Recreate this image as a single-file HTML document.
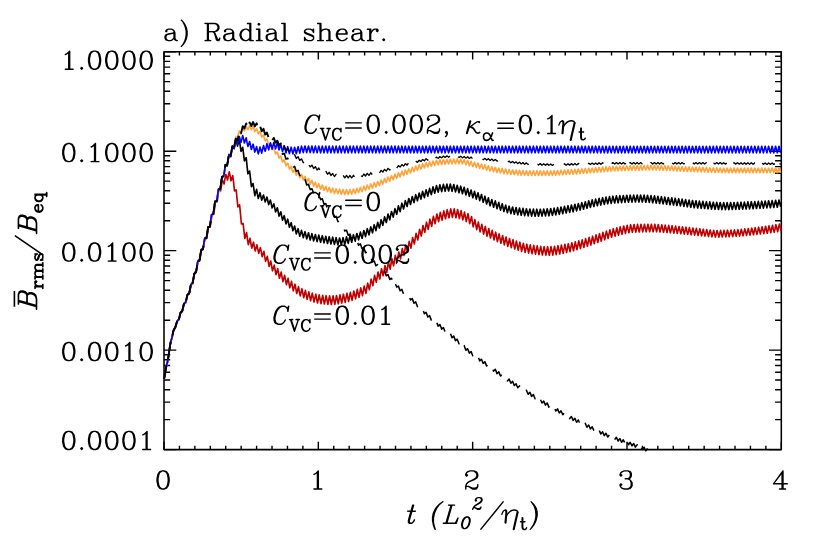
<!DOCTYPE html><html><head><meta charset="utf-8"><title>plot</title>
<style>html,body{margin:0;padding:0;background:#fff;}svg{display:block}</style></head><body>
<svg width="830" height="554" viewBox="0 0 830 554">
<rect width="830" height="554" fill="#fff"/>
<g><rect x="164.00" y="51.70" width="617.30" height="397.90" fill="none" stroke="#000" stroke-linejoin="round" stroke-width="1.55"/>
<path d="M164.00 449.60v-7.80M164.00 51.70v7.80M179.43 449.60v-3.80M179.43 51.70v3.80M194.87 449.60v-3.80M194.87 51.70v3.80M210.30 449.60v-3.80M210.30 51.70v3.80M225.73 449.60v-3.80M225.73 51.70v3.80M241.16 449.60v-3.80M241.16 51.70v3.80M256.60 449.60v-3.80M256.60 51.70v3.80M272.03 449.60v-3.80M272.03 51.70v3.80M287.46 449.60v-3.80M287.46 51.70v3.80M302.89 449.60v-3.80M302.89 51.70v3.80M318.32 449.60v-7.80M318.32 51.70v7.80M333.76 449.60v-3.80M333.76 51.70v3.80M349.19 449.60v-3.80M349.19 51.70v3.80M364.62 449.60v-3.80M364.62 51.70v3.80M380.05 449.60v-3.80M380.05 51.70v3.80M395.49 449.60v-3.80M395.49 51.70v3.80M410.92 449.60v-3.80M410.92 51.70v3.80M426.35 449.60v-3.80M426.35 51.70v3.80M441.78 449.60v-3.80M441.78 51.70v3.80M457.22 449.60v-3.80M457.22 51.70v3.80M472.65 449.60v-7.80M472.65 51.70v7.80M488.08 449.60v-3.80M488.08 51.70v3.80M503.51 449.60v-3.80M503.51 51.70v3.80M518.95 449.60v-3.80M518.95 51.70v3.80M534.38 449.60v-3.80M534.38 51.70v3.80M549.81 449.60v-3.80M549.81 51.70v3.80M565.25 449.60v-3.80M565.25 51.70v3.80M580.68 449.60v-3.80M580.68 51.70v3.80M596.11 449.60v-3.80M596.11 51.70v3.80M611.54 449.60v-3.80M611.54 51.70v3.80M626.98 449.60v-7.80M626.98 51.70v7.80M642.41 449.60v-3.80M642.41 51.70v3.80M657.84 449.60v-3.80M657.84 51.70v3.80M673.27 449.60v-3.80M673.27 51.70v3.80M688.70 449.60v-3.80M688.70 51.70v3.80M704.14 449.60v-3.80M704.14 51.70v3.80M719.57 449.60v-3.80M719.57 51.70v3.80M735.00 449.60v-3.80M735.00 51.70v3.80M750.43 449.60v-3.80M750.43 51.70v3.80M765.87 449.60v-3.80M765.87 51.70v3.80M781.30 449.60v-7.80M781.30 51.70v7.80M164.00 51.70h12.30M781.30 51.70h-12.30M164.00 121.23h6.20M781.30 121.23h-6.20M164.00 103.71h6.20M781.30 103.71h-6.20M164.00 91.29h6.20M781.30 91.29h-6.20M164.00 81.64h6.20M781.30 81.64h-6.20M164.00 73.77h6.20M781.30 73.77h-6.20M164.00 67.11h6.20M781.30 67.11h-6.20M164.00 61.34h6.20M781.30 61.34h-6.20M164.00 56.25h6.20M781.30 56.25h-6.20M164.00 151.18h12.30M781.30 151.18h-12.30M164.00 220.71h6.20M781.30 220.71h-6.20M164.00 203.19h6.20M781.30 203.19h-6.20M164.00 190.76h6.20M781.30 190.76h-6.20M164.00 181.12h6.20M781.30 181.12h-6.20M164.00 173.24h6.20M781.30 173.24h-6.20M164.00 166.58h6.20M781.30 166.58h-6.20M164.00 160.82h6.20M781.30 160.82h-6.20M164.00 155.73h6.20M781.30 155.73h-6.20M164.00 250.65h12.30M781.30 250.65h-12.30M164.00 320.18h6.20M781.30 320.18h-6.20M164.00 302.66h6.20M781.30 302.66h-6.20M164.00 290.24h6.20M781.30 290.24h-6.20M164.00 280.59h6.20M781.30 280.59h-6.20M164.00 272.72h6.20M781.30 272.72h-6.20M164.00 266.06h6.20M781.30 266.06h-6.20M164.00 260.29h6.20M781.30 260.29h-6.20M164.00 255.20h6.20M781.30 255.20h-6.20M164.00 350.12h12.30M781.30 350.12h-12.30M164.00 419.66h6.20M781.30 419.66h-6.20M164.00 402.14h6.20M781.30 402.14h-6.20M164.00 389.71h6.20M781.30 389.71h-6.20M164.00 380.07h6.20M781.30 380.07h-6.20M164.00 372.19h6.20M781.30 372.19h-6.20M164.00 365.53h6.20M781.30 365.53h-6.20M164.00 359.77h6.20M781.30 359.77h-6.20M164.00 354.68h6.20M781.30 354.68h-6.20M164.00 449.60h12.30M781.30 449.60h-12.30" stroke="#000" stroke-width="1.40" fill="none"/></g>
<g><path d="M164.0 379.5 164.9 374.7 165.7 369.4 166.6 365.3 167.5 362.1 168.3 357.6 169.2 351.4 170.1 345.2 170.9 341.4 171.8 338.5 172.7 334.3 173.5 330.4 174.4 328.9 175.2 327.7 176.1 324.7 177.0 321.6 177.8 320.7 178.7 319.9 179.6 316.5 180.4 313.0 181.3 312.2 182.2 311.4 183.0 307.8 183.9 304.0 184.8 303.3 185.6 302.7 186.5 298.9 187.4 294.9 188.2 294.3 189.1 293.7 190.0 289.5 190.8 285.0 191.7 284.2 192.5 283.5 193.4 278.7 194.3 273.8 195.1 273.0 196.0 272.3 196.9 267.2 197.7 261.9 198.6 261.2 199.5 260.7 200.3 255.4 201.2 250.1 202.1 249.7 202.9 249.4 203.8 244.1 204.7 238.6 205.5 238.5 206.4 238.3 207.3 232.8 208.1 227.1 209.0 227.0 209.8 226.8 210.7 220.9 211.6 214.7 212.4 214.4 213.3 214.0 214.2 207.7 215.0 201.5 215.9 201.4 216.8 201.3 217.6 195.3 218.5 189.4 219.4 189.3 220.2 189.3 221.1 183.1 222.0 176.8 222.8 176.6 223.7 176.5 224.6 170.6 225.4 164.9 226.3 165.4 227.1 165.9 228.0 160.5 228.9 155.2 229.7 156.0 230.6 156.9 231.5 151.9 232.3 146.9 233.2 147.8 234.1 148.7 234.9 143.7 235.8 139.0 236.7 142.0 237.5 146.1 238.4 142.9 239.3 139.5 240.1 144.9 241.0 151.3 241.9 149.3 242.7 147.3 243.6 154.1 244.4 160.9 245.3 159.2 246.2 157.7 247.0 165.7 247.9 173.8 248.8 172.5 249.6 171.0 250.5 178.6 251.4 186.6 252.2 185.2 253.1 183.5 254.0 190.1 254.8 195.7 255.7 192.4 256.6 189.4 257.4 194.2 258.3 198.5 259.2 195.5 260.0 192.7 260.9 196.6 261.7 200.1 262.6 197.6 263.5 195.0 264.3 198.5 265.2 202.0 266.1 199.5 266.9 197.1 267.8 200.8 268.7 204.6 269.5 202.3 270.4 200.1 271.3 204.0 272.1 208.0 273.0 205.9 273.9 203.8 274.7 207.8 275.6 212.0 276.5 209.9 277.3 207.8 278.2 211.9 279.0 216.1 279.9 214.0 280.8 211.8 281.6 216.0 282.5 220.1 283.4 217.9 284.2 215.7 285.1 219.8 286.0 223.9 286.8 221.5 287.7 219.2 288.6 223.3 289.4 227.3 290.3 225.0 291.2 222.7 292.0 226.8 292.9 230.8 293.8 228.4 294.6 226.0 295.5 230.0 296.3 233.9 297.2 231.3 298.1 228.7 298.9 232.5 299.8 236.2 300.7 233.3 301.5 230.4 302.4 234.0 303.3 237.7 304.1 234.7 305.0 231.7 305.9 235.3 306.7 238.9 307.6 235.9 308.5 232.8 309.3 236.4 310.2 240.0 311.1 236.8 311.9 233.7 312.8 237.3 313.6 240.9 314.5 237.7 315.4 234.5 316.2 238.0 317.1 241.6 318.0 238.4 318.8 235.1 319.7 238.7 320.6 242.3 321.4 239.0 322.3 235.7 323.2 239.3 324.0 242.9 324.9 239.6 325.8 236.3 326.6 239.9 327.5 243.5 328.4 240.1 329.2 236.7 330.1 240.4 330.9 244.0 331.8 240.6 332.7 237.2 333.5 240.8 334.4 244.4 335.3 241.0 336.1 237.6 337.0 241.2 337.9 244.9 338.7 241.4 339.6 238.0 340.5 241.5 341.3 244.9 342.2 241.3 343.1 237.7 343.9 241.1 344.8 244.4 345.7 240.7 346.5 236.9 347.4 240.2 348.2 243.4 349.1 239.6 350.0 235.8 350.8 239.0 351.7 242.2 352.6 238.4 353.4 234.7 354.3 237.9 355.2 241.1 356.0 237.3 356.9 233.5 357.8 236.6 358.6 239.8 359.5 235.9 360.4 232.1 361.2 235.2 362.1 238.3 363.0 234.4 363.8 230.5 364.7 233.5 365.5 236.6 366.4 232.6 367.3 228.7 368.1 231.7 369.0 234.8 369.9 230.8 370.7 226.8 371.6 229.8 372.5 232.8 373.3 228.8 374.2 224.7 375.1 227.7 375.9 230.6 376.8 226.5 377.7 222.3 378.5 225.2 379.4 228.0 380.3 223.9 381.1 219.7 382.0 222.5 382.8 225.3 383.7 221.1 384.6 216.9 385.4 219.7 386.3 222.5 387.2 218.3 388.0 214.1 388.9 216.9 389.8 219.8 390.6 215.6 391.5 211.5 392.4 214.3 393.2 217.1 394.1 212.9 395.0 208.7 395.8 211.5 396.7 214.3 397.6 210.1 398.4 205.9 399.3 208.7 400.1 211.6 401.0 207.4 401.9 203.2 402.7 206.1 403.6 208.9 404.5 204.8 405.3 200.7 406.2 203.6 407.1 206.5 407.9 202.5 408.8 198.5 409.7 201.5 410.5 204.5 411.4 200.5 412.3 196.5 413.1 199.5 414.0 202.6 414.9 198.6 415.7 194.7 416.6 197.7 417.4 200.8 418.3 196.9 419.2 193.0 420.0 196.0 420.9 199.1 421.8 195.2 422.6 191.4 423.5 194.5 424.4 197.6 425.2 193.7 426.1 189.9 427.0 193.0 427.8 196.1 428.7 192.3 429.6 188.4 430.4 191.5 431.3 194.6 432.2 190.7 433.0 186.9 433.9 190.0 434.7 193.2 435.6 189.4 436.5 185.6 437.3 188.8 438.2 192.1 439.1 188.4 439.9 184.8 440.8 188.2 441.7 191.6 442.5 188.0 443.4 184.4 444.3 187.8 445.1 191.2 446.0 187.7 446.9 184.1 447.7 187.6 448.6 191.0 449.5 187.5 450.3 184.0 451.2 187.6 452.0 191.2 452.9 187.8 453.8 184.5 454.6 188.2 455.5 191.9 456.4 188.6 457.2 185.3 458.1 189.0 459.0 192.7 459.8 189.5 460.7 186.2 461.6 190.0 462.4 193.7 463.3 190.5 464.2 187.3 465.0 191.1 465.9 194.9 466.8 191.8 467.6 188.6 468.5 192.4 469.3 196.3 470.2 193.1 471.1 190.0 471.9 193.8 472.8 197.7 473.7 194.5 474.5 191.4 475.4 195.3 476.3 199.1 477.1 196.0 478.0 192.8 478.9 196.7 479.7 200.6 480.6 197.5 481.5 194.5 482.3 198.4 483.2 202.3 484.1 199.2 484.9 196.2 485.8 200.1 486.6 204.0 487.5 201.0 488.4 197.9 489.2 201.8 490.1 205.7 491.0 202.6 491.8 199.5 492.7 203.4 493.6 207.2 494.4 204.1 495.3 200.9 496.2 204.8 497.0 208.7 497.9 205.5 498.8 202.4 499.6 206.2 500.5 210.1 501.4 207.0 502.2 203.8 503.1 207.6 503.9 211.5 504.8 208.3 505.7 205.1 506.5 208.9 507.4 212.7 508.3 209.4 509.1 206.2 510.0 209.9 510.9 213.6 511.7 210.3 512.6 207.0 513.5 210.6 514.3 214.2 515.2 210.9 516.1 207.5 516.9 211.2 517.8 214.8 518.7 211.4 519.5 208.0 520.4 211.6 521.2 215.2 522.1 211.8 523.0 208.4 523.8 212.0 524.7 215.6 525.6 212.2 526.4 208.8 527.3 212.3 528.2 215.9 529.0 212.4 529.9 209.0 530.8 212.5 531.6 216.1 532.5 212.6 533.4 209.1 534.2 212.6 535.1 216.2 536.0 212.7 536.8 209.2 537.7 212.7 538.5 216.2 539.4 212.7 540.3 209.2 541.1 212.6 542.0 216.1 542.9 212.5 543.7 209.0 544.6 212.5 545.5 215.9 546.3 212.3 547.2 208.8 548.1 212.2 548.9 215.7 549.8 212.1 550.7 208.5 551.5 211.9 552.4 215.3 553.3 211.7 554.1 208.1 555.0 211.5 555.8 214.9 556.7 211.2 557.6 207.6 558.4 210.9 559.3 214.3 560.2 210.6 561.0 207.0 561.9 210.3 562.8 213.7 563.6 210.0 564.5 206.4 565.4 209.7 566.2 213.0 567.1 209.4 568.0 205.7 568.8 209.1 569.7 212.4 570.6 208.7 571.4 205.0 572.3 208.4 573.1 211.7 574.0 208.0 574.9 204.3 575.7 207.6 576.6 210.9 577.5 207.2 578.3 203.5 579.2 206.8 580.1 210.1 580.9 206.4 581.8 202.7 582.7 206.0 583.5 209.2 584.4 205.5 585.3 201.8 586.1 205.0 587.0 208.3 587.9 204.6 588.7 200.8 589.6 204.1 590.4 207.4 591.3 203.6 592.2 199.9 593.0 203.2 593.9 206.5 594.8 202.8 595.6 199.1 596.5 202.4 597.4 205.7 598.2 202.1 599.1 198.4 600.0 201.7 600.8 205.1 601.7 201.4 602.6 197.7 603.4 201.1 604.3 204.4 605.2 200.8 606.0 197.1 606.9 200.5 607.7 203.8 608.6 200.2 609.5 196.6 610.3 200.0 611.2 203.4 612.1 199.8 612.9 196.2 613.8 199.6 614.7 203.0 615.5 199.4 616.4 195.9 617.3 199.3 618.1 202.8 619.0 199.2 619.9 195.7 620.7 199.1 621.6 202.6 622.5 199.0 623.3 195.5 624.2 198.9 625.0 202.4 625.9 198.8 626.8 195.3 627.6 198.8 628.5 202.2 629.4 198.7 630.2 195.2 631.1 198.6 632.0 202.1 632.8 198.6 633.7 195.1 634.6 198.6 635.4 202.0 636.3 198.5 637.2 195.0 638.0 198.5 638.9 202.0 639.8 198.5 640.6 195.0 641.5 198.5 642.3 202.0 643.2 198.6 644.1 195.1 644.9 198.6 645.8 202.2 646.7 198.7 647.5 195.3 648.4 198.9 649.3 202.4 650.1 199.0 651.0 195.6 651.9 199.1 652.7 202.7 653.6 199.3 654.5 195.9 655.3 199.5 656.2 203.1 657.1 199.7 657.9 196.3 658.8 199.9 659.6 203.5 660.5 200.1 661.4 196.7 662.2 200.3 663.1 203.9 664.0 200.5 664.8 197.1 665.7 200.7 666.6 204.3 667.4 200.9 668.3 197.5 669.2 201.1 670.0 204.7 670.9 201.3 671.8 197.8 672.6 201.4 673.5 205.0 674.4 201.6 675.2 198.2 676.1 201.9 676.9 205.5 677.8 202.1 678.7 198.7 679.5 202.3 680.4 205.9 681.3 202.5 682.1 199.1 683.0 202.8 683.9 206.4 684.7 203.0 685.6 199.6 686.5 203.2 687.3 206.8 688.2 203.5 689.1 200.1 689.9 203.7 690.8 207.3 691.7 203.9 692.5 200.5 693.4 204.1 694.2 207.7 695.1 204.2 696.0 200.8 696.8 204.4 697.7 208.0 698.6 204.5 699.4 201.1 700.3 204.7 701.2 208.3 702.0 204.8 702.9 201.4 703.8 205.0 704.6 208.5 705.5 205.1 706.4 201.7 707.2 205.2 708.1 208.8 709.0 205.4 709.8 201.9 710.7 205.5 711.5 209.1 712.4 205.6 713.3 202.2 714.1 205.7 715.0 209.3 715.9 205.8 716.7 202.4 717.6 205.9 718.5 209.5 719.3 206.0 720.2 202.5 721.1 206.0 721.9 209.6 722.8 206.1 723.7 202.6 724.5 206.1 725.4 209.6 726.3 206.1 727.1 202.6 728.0 206.1 728.8 209.6 729.7 206.1 730.6 202.5 731.4 206.0 732.3 209.5 733.2 206.0 734.0 202.5 734.9 205.9 735.8 209.4 736.6 205.9 737.5 202.3 738.4 205.8 739.2 209.3 740.1 205.7 741.0 202.2 741.8 205.7 742.7 209.1 743.6 205.6 744.4 202.1 745.3 205.5 746.1 209.0 747.0 205.4 747.9 201.9 748.7 205.4 749.6 208.8 750.5 205.3 751.3 201.7 752.2 205.2 753.1 208.7 753.9 205.1 754.8 201.6 755.7 205.0 756.5 208.5 757.4 205.0 758.3 201.4 759.1 204.9 760.0 208.3 760.9 204.8 761.7 201.2 762.6 204.7 763.4 208.1 764.3 204.6 765.2 201.0 766.0 204.5 766.9 207.9 767.8 204.4 768.6 200.8 769.5 204.2 770.4 207.7 771.2 204.1 772.1 200.6 773.0 204.0 773.8 207.5 774.7 203.9 775.6 200.3 776.4 203.8 777.3 207.2 778.2 203.6 779.0 200.1 779.9 203.5 780.7 206.9" stroke="#000" stroke-width="1.65" fill="none" stroke-linejoin="round"/>
<path d="M164.4 376.9 165.3 372.6 166.1 367.9 167.0 363.7 167.8 359.9 168.7 355.1 169.6 349.0 170.4 343.0 171.3 339.7 172.2 337.0 173.0 332.9 173.9 329.2 174.8 327.9 175.6 326.8 176.5 323.8 177.4 320.7 178.2 319.8 179.1 319.0 180.0 315.5 180.8 312.0 181.7 311.2 182.6 310.5 183.4 306.8 184.3 303.0 185.1 302.3 186.0 301.7 186.9 297.9 187.7 293.9 188.6 293.3 189.5 292.7 190.3 288.4 191.2 283.8 192.1 283.0 192.9 282.3 193.8 277.5 194.7 272.5 195.5 271.7 196.4 270.9 197.3 265.8 198.1 260.5 199.0 259.9 199.9 259.3 200.7 254.1 201.6 248.9 202.4 248.6 203.3 248.4 204.2 243.2 205.0 237.9 205.9 237.8 206.8 237.9 207.6 232.4 208.5 226.8 209.4 226.8 210.2 226.9 211.1 221.0 212.0 214.8 212.8 214.6 213.7 214.3 214.6 208.1 215.4 201.8 216.3 201.8 217.2 201.7 218.0 195.4 218.9 189.1 219.7 189.7 220.6 190.8 221.5 185.4 222.3 180.0 223.2 181.8 224.1 183.9 224.9 179.1 225.8 174.4 226.7 177.1 227.5 180.0 228.4 175.7 229.3 171.8 230.1 175.9 231.0 180.8 231.9 178.2 232.7 175.6 233.6 182.3 234.5 191.0 235.3 190.8 236.2 189.9 237.0 198.4 237.9 206.9 238.8 205.8 239.6 204.8 240.5 214.2 241.4 224.0 242.2 224.0 243.1 223.4 244.0 231.4 244.8 238.5 245.7 235.6 246.6 232.5 247.4 238.8 248.3 244.6 249.2 241.3 250.0 238.3 250.9 243.5 251.8 248.1 252.6 245.2 253.5 242.2 254.3 246.6 255.2 250.9 256.1 247.8 256.9 244.8 257.8 249.1 258.7 253.4 259.5 250.4 260.4 247.5 261.3 252.1 262.1 256.7 263.0 254.1 263.9 251.4 264.7 256.4 265.6 261.3 266.5 258.8 267.3 256.3 268.2 261.3 269.1 266.4 269.9 263.8 270.8 261.1 271.6 266.0 272.5 270.8 273.4 268.0 274.2 265.1 275.1 269.9 276.0 274.6 276.8 271.7 277.7 268.7 278.6 273.5 279.4 278.2 280.3 275.2 281.2 272.1 282.0 276.8 282.9 281.6 283.8 278.5 284.6 275.3 285.5 280.0 286.4 284.7 287.2 281.5 288.1 278.3 288.9 283.0 289.8 287.8 290.7 284.6 291.5 281.3 292.4 286.1 293.3 290.8 294.1 287.5 295.0 284.2 295.9 288.9 296.7 293.5 297.6 290.2 298.5 286.7 299.3 291.3 300.2 295.9 301.1 292.4 301.9 288.8 302.8 293.2 303.7 297.7 304.5 294.1 305.4 290.4 306.2 294.8 307.1 299.3 308.0 295.6 308.8 291.8 309.7 296.3 310.6 300.8 311.4 297.0 312.3 293.1 313.2 297.6 314.0 302.0 314.9 298.1 315.8 294.2 316.6 298.6 317.5 303.0 318.4 299.0 319.2 294.9 320.1 299.3 321.0 303.6 321.8 299.5 322.7 295.3 323.5 299.7 324.4 304.0 325.3 299.9 326.1 295.7 327.0 300.0 327.9 304.4 328.7 300.1 329.6 295.9 330.5 300.2 331.3 304.5 332.2 300.2 333.1 295.8 333.9 300.1 334.8 304.3 335.7 299.9 336.5 295.5 337.4 299.7 338.3 303.8 339.1 299.4 340.0 294.9 340.8 299.0 341.7 303.2 342.6 298.7 343.4 294.2 344.3 298.3 345.2 302.4 346.0 297.9 346.9 293.3 347.8 297.4 348.6 301.5 349.5 296.9 350.4 292.3 351.2 296.3 352.1 300.3 353.0 295.6 353.8 291.0 354.7 294.9 355.6 298.8 356.4 294.1 357.3 289.4 358.1 293.3 359.0 297.3 359.9 292.6 360.7 287.9 361.6 291.8 362.5 295.6 363.3 290.8 364.2 286.0 365.1 289.8 365.9 293.4 366.8 288.4 367.7 283.2 368.5 286.5 369.4 289.7 370.3 284.4 371.1 279.0 372.0 282.3 372.9 285.7 373.7 280.5 374.6 275.4 375.4 278.8 376.3 282.3 377.2 277.1 378.0 272.0 378.9 275.5 379.8 279.0 380.6 273.8 381.5 268.7 382.4 272.2 383.2 275.7 384.1 270.6 385.0 265.5 385.8 269.0 386.7 272.5 387.6 267.3 388.4 262.2 389.3 265.7 390.2 269.1 391.0 264.0 391.9 258.8 392.7 262.3 393.6 265.7 394.5 260.6 395.3 255.4 396.2 258.9 397.1 262.3 397.9 257.2 398.8 252.0 399.7 255.4 400.5 258.9 401.4 253.7 402.3 248.5 403.1 252.0 404.0 255.4 404.9 250.2 405.7 245.0 406.6 248.4 407.5 251.8 408.3 246.6 409.2 241.4 410.0 244.7 410.9 248.1 411.8 242.8 412.6 237.5 413.5 240.8 414.4 244.0 415.2 238.7 416.1 233.4 417.0 236.7 417.8 239.9 418.7 234.6 419.6 229.3 420.4 232.6 421.3 236.0 422.2 230.7 423.0 225.5 423.9 229.0 424.8 232.4 425.6 227.3 426.5 222.2 427.3 225.8 428.2 229.3 429.1 224.3 429.9 219.2 430.8 222.8 431.7 226.4 432.5 221.4 433.4 216.4 434.3 220.1 435.1 223.7 436.0 218.9 436.9 214.0 437.7 217.8 438.6 221.6 439.5 216.9 440.3 212.3 441.2 216.2 442.1 220.2 442.9 215.5 443.8 210.9 444.6 214.8 445.5 218.8 446.4 214.2 447.2 209.7 448.1 213.7 449.0 217.8 449.8 213.4 450.7 208.9 451.6 213.1 452.4 217.4 453.3 213.1 454.2 208.9 455.0 213.3 455.9 217.7 456.8 213.6 457.6 209.5 458.5 214.0 459.4 218.6 460.2 214.6 461.1 210.6 461.9 215.3 462.8 219.9 463.7 216.0 464.5 212.1 465.4 216.8 466.3 221.5 467.1 217.6 468.0 213.7 468.9 218.6 469.7 223.6 470.6 220.1 471.5 216.5 472.3 221.7 473.2 226.8 474.1 223.2 474.9 219.7 475.8 224.6 476.7 229.6 477.5 225.8 478.4 222.1 479.2 227.0 480.1 231.9 481.0 228.1 481.8 224.4 482.7 229.2 483.6 234.1 484.4 230.3 485.3 226.5 486.2 231.3 487.0 236.1 487.9 232.3 488.8 228.5 489.6 233.3 490.5 238.0 491.4 234.2 492.2 230.4 493.1 235.1 494.0 239.9 494.8 236.0 495.7 232.2 496.5 236.9 497.4 241.6 498.3 237.7 499.1 233.9 500.0 238.6 500.9 243.3 501.7 239.4 502.6 235.5 503.5 240.2 504.3 244.9 505.2 241.0 506.1 237.0 506.9 241.7 507.8 246.4 508.7 242.4 509.5 238.5 510.4 243.1 511.3 247.7 512.1 243.7 513.0 239.7 513.8 244.4 514.7 249.0 515.6 245.0 516.4 241.0 517.3 245.6 518.2 250.2 519.0 246.2 519.9 242.2 520.8 246.8 521.6 251.4 522.5 247.3 523.4 243.3 524.2 247.8 525.1 252.4 526.0 248.3 526.8 244.2 527.7 248.7 528.6 253.2 529.4 249.0 530.3 244.9 531.1 249.3 532.0 253.7 532.9 249.6 533.7 245.4 534.6 249.8 535.5 254.2 536.3 250.1 537.2 245.9 538.1 250.3 538.9 254.7 539.8 250.5 540.7 246.3 541.5 250.7 542.4 255.0 543.3 250.8 544.1 246.6 545.0 250.9 545.9 255.2 546.7 251.0 547.6 246.7 548.4 251.0 549.3 255.3 550.2 251.0 551.0 246.6 551.9 250.8 552.8 255.1 553.6 250.7 554.5 246.3 555.4 250.4 556.2 254.6 557.1 250.2 558.0 245.7 558.8 249.8 559.7 254.0 560.6 249.5 561.4 245.0 562.3 249.2 563.2 253.3 564.0 248.8 564.9 244.4 565.7 248.4 566.6 252.5 567.5 248.1 568.3 243.7 569.2 247.7 570.1 251.7 570.9 247.3 571.8 242.8 572.7 246.8 573.5 250.8 574.4 246.3 575.3 241.8 576.1 245.8 577.0 249.7 577.9 245.3 578.7 240.8 579.6 244.7 580.5 248.6 581.3 244.2 582.2 239.8 583.0 243.6 583.9 247.5 584.8 243.0 585.6 238.6 586.5 242.4 587.4 246.3 588.2 241.8 589.1 237.4 590.0 241.2 590.8 245.0 591.7 240.6 592.6 236.2 593.4 239.9 594.3 243.7 595.2 239.3 596.0 234.9 596.9 238.7 597.8 242.5 598.6 238.1 599.5 233.7 600.3 237.4 601.2 241.2 602.1 236.8 602.9 232.4 603.8 236.1 604.7 239.8 605.5 235.4 606.4 231.1 607.3 234.8 608.1 238.5 609.0 234.1 609.9 229.8 610.7 233.5 611.6 237.2 612.5 232.9 613.3 228.7 614.2 232.4 615.1 236.1 615.9 231.9 616.8 227.8 617.6 231.5 618.5 235.2 619.4 231.0 620.2 226.9 621.1 230.6 622.0 234.3 622.8 230.1 623.7 226.0 624.6 229.7 625.4 233.4 626.3 229.3 627.2 225.3 628.0 229.0 628.9 232.7 629.8 228.7 630.6 224.7 631.5 228.5 632.4 232.3 633.2 228.3 634.1 224.5 634.9 228.3 635.8 232.1 636.7 228.2 637.5 224.4 638.4 228.2 639.3 232.0 640.1 228.1 641.0 224.3 641.9 228.1 642.7 231.9 643.6 228.1 644.5 224.3 645.3 228.0 646.2 231.8 647.1 228.0 647.9 224.3 648.8 228.0 649.7 231.7 650.5 228.0 651.4 224.3 652.2 228.0 653.1 231.7 654.0 228.0 654.8 224.3 655.7 228.1 656.6 231.8 657.4 228.2 658.3 224.5 659.2 228.3 660.0 232.0 660.9 228.4 661.8 224.8 662.6 228.5 663.5 232.3 664.4 228.7 665.2 225.1 666.1 228.8 667.0 232.5 667.8 229.0 668.7 225.4 669.5 229.1 670.4 232.8 671.3 229.3 672.1 225.7 673.0 229.4 673.9 233.1 674.7 229.6 675.6 226.1 676.5 229.7 677.3 233.4 678.2 229.9 679.1 226.5 679.9 230.1 680.8 233.7 681.7 230.3 682.5 226.8 683.4 230.5 684.3 234.1 685.1 230.7 686.0 227.2 686.8 230.8 687.7 234.4 688.6 231.0 689.4 227.6 690.3 231.2 691.2 234.8 692.0 231.4 692.9 228.0 693.8 231.6 694.6 235.1 695.5 231.7 696.4 228.4 697.2 231.9 698.1 235.5 699.0 232.1 699.8 228.8 700.7 232.3 701.6 235.8 702.4 232.5 703.3 229.2 704.1 232.7 705.0 236.1 705.9 232.8 706.7 229.5 707.6 233.0 708.5 236.5 709.3 233.2 710.2 230.0 711.1 233.4 711.9 236.9 712.8 233.6 713.7 230.4 714.5 233.8 715.4 237.1 716.3 233.8 717.1 230.5 718.0 233.8 718.9 237.1 719.7 233.8 720.6 230.4 721.4 233.7 722.3 237.0 723.2 233.7 724.0 230.4 724.9 233.6 725.8 236.9 726.6 233.6 727.5 230.2 728.4 233.5 729.2 236.7 730.1 233.4 731.0 230.1 731.8 233.3 732.7 236.6 733.6 233.2 734.4 229.9 735.3 233.1 736.2 236.4 737.0 233.0 737.9 229.7 738.7 232.9 739.6 236.1 740.5 232.7 741.3 229.3 742.2 232.5 743.1 235.8 743.9 232.4 744.8 228.9 745.7 232.2 746.5 235.4 747.4 232.0 748.3 228.5 749.1 231.8 750.0 235.1 750.9 231.6 751.7 228.0 752.6 231.4 753.5 234.7 754.3 231.2 755.2 227.6 756.0 231.0 756.9 234.4 757.8 230.8 758.6 227.2 759.5 230.6 760.4 234.0 761.2 230.4 762.1 226.8 763.0 230.2 763.8 233.6 764.7 230.0 765.6 226.3 766.4 229.7 767.3 233.2 768.2 229.5 769.0 225.8 769.9 229.3 770.8 232.7 771.6 229.0 772.5 225.3 773.3 228.8 774.2 232.3 775.1 228.5 775.9 224.7 776.8 228.2 777.7 231.7 778.5 227.9 779.4 224.1 780.3 227.6 781.1 231.1" stroke="#c00000" stroke-width="1.65" fill="none" stroke-linejoin="round"/>
<path d="M164.0 379.8 164.9 375.0 165.7 369.7 166.6 365.6 167.5 362.4 168.3 357.9 169.2 351.7 170.1 345.5 170.9 341.7 171.8 338.8 172.7 334.6 173.5 330.7 174.4 329.2 175.2 328.0 176.1 325.0 177.0 321.9 177.8 321.0 178.7 320.2 179.6 316.8 180.4 313.3 181.3 312.5 182.2 311.7 183.0 308.1 183.9 304.3 184.8 303.6 185.6 303.0 186.5 299.2 187.4 295.2 188.2 294.6 189.1 294.0 190.0 289.8 190.8 285.3 191.7 284.5 192.5 283.8 193.4 279.0 194.3 274.1 195.1 273.3 196.0 272.6 196.9 267.5 197.7 262.2 198.6 261.5 199.5 261.0 200.3 255.7 201.2 250.4 202.1 250.0 202.9 249.7 203.8 244.4 204.7 238.9 205.5 238.8 206.4 238.6 207.3 233.1 208.1 227.4 209.0 227.3 209.8 227.1 210.7 221.2 211.6 215.0 212.4 214.7 213.3 214.3 214.2 208.0 215.0 201.8 215.9 201.7 216.8 201.6 217.6 195.6 218.5 189.7 219.4 189.6 220.2 189.6 221.1 183.4 222.0 177.2 222.8 177.0 223.7 176.9 224.6 170.9 225.4 165.2 226.3 165.7 227.1 166.2 228.0 160.8 228.9 155.6 229.7 156.3 230.6 156.9 231.5 151.8 232.3 146.8 233.2 147.1 234.1 147.1 234.9 141.9 235.8 137.0 236.7 137.3 237.5 137.9 238.4 134.3 239.3 130.9 240.1 132.2 241.0 133.6 241.9 130.6 242.7 128.0 243.6 129.5 244.4 131.0 245.3 128.7 246.2 126.4 247.0 128.0 247.9 129.7 248.8 127.6 249.6 125.6 250.5 127.6 251.4 129.7 252.2 128.1 253.1 126.6 254.0 129.0 254.8 131.5 255.7 130.1 256.6 128.7 257.4 131.3 258.3 133.8 259.2 132.7 260.0 131.6 260.9 134.3 261.7 137.0 262.6 136.0 263.5 135.0 264.3 137.9 265.2 140.8 266.1 139.9 266.9 139.1 267.8 142.1 268.7 145.1 269.5 144.4 270.4 143.6 271.3 146.7 272.1 149.7 273.0 148.9 273.9 148.0 274.7 151.0 275.6 154.0 276.5 153.0 277.3 152.0 278.2 155.0 279.0 158.1 279.9 157.0 280.8 156.0 281.6 159.0 282.5 162.0 283.4 160.9 284.2 159.7 285.1 162.7 286.0 165.7 286.8 164.4 287.7 163.1 288.6 166.1 289.4 169.1 290.3 167.7 291.2 166.4 292.0 169.3 292.9 172.3 293.8 170.8 294.6 169.3 295.5 172.2 296.3 175.2 297.2 173.6 298.1 172.0 298.9 174.8 299.8 177.7 300.7 176.0 301.5 174.3 302.4 177.1 303.3 180.0 304.1 178.2 305.0 176.3 305.9 179.2 306.7 182.0 307.6 180.2 308.5 178.3 309.3 181.2 310.2 184.1 311.1 182.2 311.9 180.3 312.8 183.2 313.6 186.1 314.5 184.2 315.4 182.2 316.2 185.0 317.1 187.8 318.0 185.8 318.8 183.7 319.7 186.5 320.6 189.2 321.4 187.1 322.3 185.1 323.2 187.8 324.0 190.5 324.9 188.4 325.8 186.3 326.6 189.0 327.5 191.7 328.4 189.5 329.2 187.4 330.1 190.0 330.9 192.6 331.8 190.5 332.7 188.2 333.5 190.8 334.4 193.4 335.3 191.1 336.1 188.8 337.0 191.3 337.9 193.8 338.7 191.5 339.6 189.2 340.5 191.7 341.3 194.2 342.2 191.9 343.1 189.5 343.9 192.0 344.8 194.4 345.7 192.1 346.5 189.7 347.4 192.1 348.2 194.5 349.1 192.0 350.0 189.6 350.8 191.9 351.7 194.1 352.6 191.6 353.4 189.1 354.3 191.3 355.2 193.5 356.0 190.9 356.9 188.3 357.8 190.5 358.6 192.6 359.5 190.0 360.4 187.3 361.2 189.5 362.1 191.6 363.0 188.9 363.8 186.2 364.7 188.3 365.5 190.4 366.4 187.7 367.3 185.1 368.1 187.2 369.0 189.3 369.9 186.6 370.7 183.9 371.6 186.0 372.5 188.1 373.3 185.5 374.2 182.8 375.1 184.9 375.9 186.9 376.8 184.2 377.7 181.5 378.5 183.5 379.4 185.6 380.3 182.8 381.1 180.1 382.0 182.1 382.8 184.1 383.7 181.3 384.6 178.6 385.4 180.6 386.3 182.6 387.2 179.8 388.0 177.1 388.9 179.1 389.8 181.2 390.6 178.4 391.5 175.7 392.4 177.7 393.2 179.8 394.1 177.0 395.0 174.2 395.8 176.3 396.7 178.3 397.6 175.6 398.4 172.8 399.3 174.9 400.1 176.9 401.0 174.2 401.9 171.4 402.7 173.5 403.6 175.5 404.5 172.8 405.3 170.1 406.2 172.1 407.1 174.2 407.9 171.5 408.8 168.8 409.7 170.8 410.5 172.9 411.4 170.2 412.3 167.4 413.1 169.5 414.0 171.6 414.9 168.9 415.7 166.1 416.6 168.2 417.4 170.3 418.3 167.6 419.2 164.9 420.0 167.0 420.9 169.1 421.8 166.4 422.6 163.7 423.5 165.8 424.4 168.0 425.2 165.3 426.1 162.7 427.0 164.9 427.8 167.0 428.7 164.4 429.6 161.8 430.4 164.0 431.3 166.2 432.2 163.6 433.0 161.0 433.9 163.2 434.7 165.4 435.6 162.8 436.5 160.3 437.3 162.5 438.2 164.8 439.1 162.3 439.9 159.8 440.8 162.1 441.7 164.4 442.5 162.0 443.4 159.6 444.3 161.9 445.1 164.2 446.0 161.7 446.9 159.3 447.7 161.6 448.6 164.0 449.5 161.5 450.3 159.1 451.2 161.5 452.0 163.8 452.9 161.4 453.8 159.0 454.6 161.3 455.5 163.7 456.4 161.3 457.2 158.9 458.1 161.3 459.0 163.7 459.8 161.4 460.7 159.1 461.6 161.6 462.4 164.0 463.3 161.8 464.2 159.6 465.0 162.2 465.9 164.7 466.8 162.6 467.6 160.4 468.5 163.0 469.3 165.6 470.2 163.5 471.1 161.4 471.9 164.0 472.8 166.6 473.7 164.4 474.5 162.3 475.4 164.9 476.3 167.4 477.1 165.3 478.0 163.1 478.9 165.7 479.7 168.3 480.6 166.1 481.5 164.0 482.3 166.6 483.2 169.2 484.1 167.1 484.9 164.9 485.8 167.5 486.6 170.1 487.5 168.0 488.4 165.8 489.2 168.4 490.1 171.0 491.0 168.8 491.8 166.7 492.7 169.2 493.6 171.7 494.4 169.5 495.3 167.4 496.2 169.9 497.0 172.4 497.9 170.2 498.8 168.0 499.6 170.5 500.5 173.0 501.4 170.8 502.2 168.6 503.1 171.1 503.9 173.6 504.8 171.3 505.7 169.1 506.5 171.6 507.4 174.0 508.3 171.8 509.1 169.6 510.0 172.0 510.9 174.4 511.7 172.2 512.6 169.9 513.5 172.3 514.3 174.7 515.2 172.4 516.1 170.1 516.9 172.5 517.8 174.9 518.7 172.7 519.5 170.4 520.4 172.8 521.2 175.2 522.1 172.9 523.0 170.6 523.8 172.9 524.7 175.3 525.6 173.0 526.4 170.7 527.3 173.1 528.2 175.4 529.0 173.1 529.9 170.8 530.8 173.1 531.6 175.4 532.5 173.1 533.4 170.8 534.2 173.1 535.1 175.4 536.0 173.1 536.8 170.8 537.7 173.1 538.5 175.4 539.4 173.1 540.3 170.8 541.1 173.1 542.0 175.4 542.9 173.1 543.7 170.8 544.6 173.1 545.5 175.4 546.3 173.1 547.2 170.8 548.1 173.1 548.9 175.4 549.8 173.1 550.7 170.8 551.5 173.1 552.4 175.4 553.3 173.0 554.1 170.6 555.0 172.9 555.8 175.2 556.7 172.8 557.6 170.5 558.4 172.7 559.3 175.0 560.2 172.6 561.0 170.2 561.9 172.5 562.8 174.8 563.6 172.4 564.5 170.0 565.4 172.3 566.2 174.5 567.1 172.2 568.0 169.8 568.8 172.1 569.7 174.3 570.6 172.0 571.4 169.6 572.3 171.8 573.1 174.1 574.0 171.7 574.9 169.3 575.7 171.6 576.6 173.9 577.5 171.5 578.3 169.1 579.2 171.4 580.1 173.6 580.9 171.2 581.8 168.9 582.7 171.1 583.5 173.3 584.4 171.0 585.3 168.6 586.1 170.8 587.0 173.1 587.9 170.7 588.7 168.3 589.6 170.5 590.4 172.8 591.3 170.4 592.2 168.0 593.0 170.2 593.9 172.5 594.8 170.1 595.6 167.7 596.5 169.9 597.4 172.2 598.2 169.8 599.1 167.4 600.0 169.6 600.8 171.9 601.7 169.5 602.6 167.1 603.4 169.4 604.3 171.6 605.2 169.2 606.0 166.9 606.9 169.1 607.7 171.3 608.6 169.0 609.5 166.6 610.3 168.9 611.2 171.1 612.1 168.8 612.9 166.4 613.8 168.7 614.7 171.0 615.5 168.6 616.4 166.3 617.3 168.6 618.1 170.8 619.0 168.5 619.9 166.2 620.7 168.4 621.6 170.7 622.5 168.4 623.3 166.0 624.2 168.3 625.0 170.6 625.9 168.2 626.8 165.9 627.6 168.2 628.5 170.4 629.4 168.1 630.2 165.8 631.1 168.1 632.0 170.3 632.8 168.0 633.7 165.7 634.6 168.0 635.4 170.2 636.3 167.9 637.2 165.6 638.0 167.9 638.9 170.2 639.8 167.8 640.6 165.5 641.5 167.8 642.3 170.1 643.2 167.8 644.1 165.5 644.9 167.7 645.8 170.0 646.7 167.7 647.5 165.4 648.4 167.7 649.3 170.0 650.1 167.7 651.0 165.4 651.9 167.7 652.7 170.0 653.6 167.7 654.5 165.4 655.3 167.7 656.2 170.0 657.1 167.8 657.9 165.5 658.8 167.8 659.6 170.1 660.5 167.8 661.4 165.6 662.2 167.9 663.1 170.2 664.0 168.0 664.8 165.7 665.7 168.0 666.6 170.4 667.4 168.1 668.3 165.9 669.2 168.2 670.0 170.5 670.9 168.3 671.8 166.0 672.6 168.4 673.5 170.7 674.4 168.5 675.2 166.2 676.1 168.5 676.9 170.9 677.8 168.6 678.7 166.4 679.5 168.7 680.4 171.1 681.3 168.8 682.1 166.5 683.0 168.9 683.9 171.2 684.7 169.0 685.6 166.7 686.5 169.0 687.3 171.4 688.2 169.1 689.1 166.8 689.9 169.2 690.8 171.5 691.7 169.2 692.5 167.0 693.4 169.3 694.2 171.6 695.1 169.4 696.0 167.1 696.8 169.4 697.7 171.8 698.6 169.5 699.4 167.2 700.3 169.6 701.2 171.9 702.0 169.6 702.9 167.4 703.8 169.7 704.6 172.0 705.5 169.8 706.4 167.5 707.2 169.9 708.1 172.2 709.0 169.9 709.8 167.7 710.7 170.0 711.5 172.3 712.4 170.0 713.3 167.8 714.1 170.1 715.0 172.4 715.9 170.2 716.7 167.9 717.6 170.2 718.5 172.5 719.3 170.3 720.2 168.0 721.1 170.3 721.9 172.6 722.8 170.3 723.7 168.0 724.5 170.4 725.4 172.7 726.3 170.4 727.1 168.1 728.0 170.4 728.8 172.7 729.7 170.4 730.6 168.1 731.4 170.4 732.3 172.7 733.2 170.4 734.0 168.1 734.9 170.4 735.8 172.7 736.6 170.4 737.5 168.1 738.4 170.4 739.2 172.7 740.1 170.4 741.0 168.1 741.8 170.4 742.7 172.7 743.6 170.4 744.4 168.1 745.3 170.4 746.1 172.7 747.0 170.4 747.9 168.1 748.7 170.4 749.6 172.7 750.5 170.4 751.3 168.1 752.2 170.4 753.1 172.7 753.9 170.4 754.8 168.1 755.7 170.4 756.5 172.7 757.4 170.4 758.3 168.1 759.1 170.4 760.0 172.7 760.9 170.4 761.7 168.1 762.6 170.4 763.4 172.7 764.3 170.4 765.2 168.1 766.0 170.4 766.9 172.7 767.8 170.4 768.6 168.1 769.5 170.4 770.4 172.7 771.2 170.4 772.1 168.1 773.0 170.4 773.8 172.7 774.7 170.4 775.6 168.1 776.4 170.4 777.3 172.7 778.2 170.4 779.0 168.1 779.9 170.4 780.7 172.7" stroke="#ffa338" stroke-width="1.65" fill="none" stroke-linejoin="round"/>
<path d="M164.0 379.2 164.9 374.5 165.7 369.2 166.6 365.0 167.5 361.9 168.3 357.3 169.2 351.1 170.1 345.0 170.9 341.2 171.8 338.3 172.7 334.0 173.5 330.1 174.4 328.6 175.2 327.5 176.1 324.4 177.0 321.3 177.8 320.5 178.7 319.6 179.6 316.2 180.4 312.7 181.3 311.9 182.2 311.2 183.0 307.5 183.9 303.8 184.8 303.1 185.6 302.5 186.5 298.6 187.4 294.6 188.2 294.1 189.1 293.5 190.0 289.2 190.8 284.8 191.7 284.0 192.5 283.3 193.4 278.5 194.3 273.6 195.1 272.8 196.0 272.0 196.9 266.9 197.7 261.7 198.6 261.0 199.5 260.4 200.3 255.2 201.2 249.8 202.1 249.4 202.9 249.1 203.8 243.8 204.7 238.4 205.5 238.2 206.4 238.1 207.3 232.5 208.1 226.8 209.0 226.7 209.8 226.6 210.7 220.6 211.6 214.5 212.4 214.1 213.3 213.8 214.2 207.5 215.0 201.2 215.9 201.1 216.8 201.1 217.6 195.1 218.5 189.1 219.4 189.1 220.2 189.0 221.1 182.8 222.0 176.6 222.8 176.4 223.7 176.3 224.6 170.4 225.4 164.7 226.3 165.0 227.1 165.5 228.0 159.9 228.9 154.4 229.7 155.2 230.6 156.1 231.5 150.9 232.3 145.8 233.2 147.1 234.1 148.4 234.9 143.6 235.8 139.2 236.7 141.7 237.5 144.2 238.4 140.4 239.3 136.5 240.1 139.4 241.0 142.4 241.9 138.9 242.7 135.6 243.6 139.1 244.4 143.0 245.3 140.4 246.2 137.9 247.0 142.2 247.9 146.4 248.8 144.0 249.6 141.5 250.5 145.5 251.4 149.5 252.2 146.8 253.1 144.2 254.0 148.2 254.8 152.1 255.7 149.4 256.6 146.6 257.4 150.3 258.3 153.8 259.2 150.5 260.0 147.1 260.9 150.2 261.7 153.1 262.6 149.4 263.5 145.6 264.3 148.4 265.2 151.2 266.1 147.5 266.9 143.7 267.8 146.7 268.7 149.8 269.5 146.3 270.4 142.8 271.3 145.9 272.1 149.1 273.0 145.7 273.9 142.3 274.7 145.6 275.6 148.9 276.5 145.7 277.3 142.6 278.2 146.2 279.0 149.9 279.9 147.0 280.8 144.1 281.6 147.8 282.5 151.6 283.4 148.7 284.2 145.7 285.1 149.4 286.0 152.9 286.8 149.8 287.7 146.7 288.6 150.1 289.4 153.6 290.3 150.4 291.2 147.2 292.0 150.6 292.9 153.9 293.8 150.6 294.6 147.3 295.5 150.5 296.3 153.7 297.2 150.2 298.1 146.8 298.9 149.9 299.8 153.1 300.7 149.6 301.5 146.2 302.4 149.4 303.3 152.6 304.1 149.3 305.0 146.0 305.9 149.3 306.7 152.6 307.6 149.3 308.5 146.0 309.3 149.3 310.2 152.6 311.1 149.3 311.9 146.0 312.8 149.4 313.6 152.7 314.5 149.4 315.4 146.1 316.2 149.4 317.1 152.7 318.0 149.4 318.8 146.1 319.7 149.4 320.6 152.8 321.4 149.4 322.3 146.1 323.2 149.4 324.0 152.8 324.9 149.4 325.8 146.1 326.6 149.4 327.5 152.8 328.4 149.4 329.2 146.1 330.1 149.4 330.9 152.8 331.8 149.4 332.7 146.1 333.5 149.4 334.4 152.8 335.3 149.4 336.1 146.1 337.0 149.4 337.9 152.8 338.7 149.4 339.6 146.1 340.5 149.4 341.3 152.8 342.2 149.4 343.1 146.1 343.9 149.4 344.8 152.8 345.7 149.4 346.5 146.1 347.4 149.4 348.2 152.8 349.1 149.4 350.0 146.1 350.8 149.4 351.7 152.8 352.6 149.4 353.4 146.1 354.3 149.4 355.2 152.8 356.0 149.4 356.9 146.1 357.8 149.4 358.6 152.8 359.5 149.4 360.4 146.1 361.2 149.4 362.1 152.8 363.0 149.4 363.8 146.1 364.7 149.4 365.5 152.8 366.4 149.4 367.3 146.1 368.1 149.4 369.0 152.8 369.9 149.4 370.7 146.1 371.6 149.4 372.5 152.8 373.3 149.4 374.2 146.1 375.1 149.4 375.9 152.8 376.8 149.4 377.7 146.1 378.5 149.4 379.4 152.8 380.3 149.4 381.1 146.1 382.0 149.4 382.8 152.8 383.7 149.4 384.6 146.1 385.4 149.4 386.3 152.8 387.2 149.4 388.0 146.1 388.9 149.4 389.8 152.8 390.6 149.4 391.5 146.1 392.4 149.4 393.2 152.8 394.1 149.4 395.0 146.1 395.8 149.4 396.7 152.8 397.6 149.4 398.4 146.1 399.3 149.4 400.1 152.8 401.0 149.5 401.9 146.2 402.7 149.5 403.6 152.8 404.5 149.5 405.3 146.2 406.2 149.5 407.1 152.8 407.9 149.5 408.8 146.2 409.7 149.5 410.5 152.8 411.4 149.5 412.3 146.2 413.1 149.5 414.0 152.8 414.9 149.5 415.7 146.2 416.6 149.5 417.4 152.8 418.3 149.5 419.2 146.2 420.0 149.5 420.9 152.8 421.8 149.5 422.6 146.2 423.5 149.5 424.4 152.8 425.2 149.5 426.1 146.2 427.0 149.5 427.8 152.8 428.7 149.5 429.6 146.2 430.4 149.5 431.3 152.8 432.2 149.5 433.0 146.2 433.9 149.5 434.7 152.8 435.6 149.5 436.5 146.2 437.3 149.5 438.2 152.8 439.1 149.5 439.9 146.2 440.8 149.5 441.7 152.8 442.5 149.5 443.4 146.2 444.3 149.5 445.1 152.8 446.0 149.5 446.9 146.2 447.7 149.5 448.6 152.8 449.5 149.5 450.3 146.2 451.2 149.5 452.0 152.8 452.9 149.5 453.8 146.2 454.6 149.5 455.5 152.8 456.4 149.5 457.2 146.2 458.1 149.5 459.0 152.8 459.8 149.5 460.7 146.2 461.6 149.5 462.4 152.8 463.3 149.5 464.2 146.2 465.0 149.5 465.9 152.8 466.8 149.5 467.6 146.2 468.5 149.5 469.3 152.8 470.2 149.5 471.1 146.2 471.9 149.5 472.8 152.8 473.7 149.5 474.5 146.2 475.4 149.5 476.3 152.8 477.1 149.5 478.0 146.2 478.9 149.5 479.7 152.8 480.6 149.5 481.5 146.2 482.3 149.5 483.2 152.8 484.1 149.5 484.9 146.2 485.8 149.5 486.6 152.8 487.5 149.5 488.4 146.2 489.2 149.5 490.1 152.8 491.0 149.5 491.8 146.2 492.7 149.5 493.6 152.8 494.4 149.5 495.3 146.2 496.2 149.5 497.0 152.8 497.9 149.5 498.8 146.2 499.6 149.5 500.5 152.8 501.4 149.5 502.2 146.2 503.1 149.5 503.9 152.8 504.8 149.5 505.7 146.2 506.5 149.5 507.4 152.8 508.3 149.5 509.1 146.2 510.0 149.5 510.9 152.8 511.7 149.5 512.6 146.2 513.5 149.5 514.3 152.8 515.2 149.5 516.1 146.2 516.9 149.5 517.8 152.8 518.7 149.5 519.5 146.2 520.4 149.5 521.2 152.8 522.1 149.5 523.0 146.2 523.8 149.5 524.7 152.8 525.6 149.5 526.4 146.2 527.3 149.5 528.2 152.8 529.0 149.5 529.9 146.2 530.8 149.5 531.6 152.8 532.5 149.5 533.4 146.2 534.2 149.5 535.1 152.8 536.0 149.5 536.8 146.2 537.7 149.5 538.5 152.8 539.4 149.5 540.3 146.2 541.1 149.5 542.0 152.8 542.9 149.5 543.7 146.2 544.6 149.5 545.5 152.8 546.3 149.5 547.2 146.2 548.1 149.5 548.9 152.8 549.8 149.5 550.7 146.2 551.5 149.5 552.4 152.8 553.3 149.5 554.1 146.2 555.0 149.5 555.8 152.8 556.7 149.5 557.6 146.2 558.4 149.5 559.3 152.8 560.2 149.5 561.0 146.2 561.9 149.5 562.8 152.8 563.6 149.5 564.5 146.2 565.4 149.5 566.2 152.8 567.1 149.5 568.0 146.2 568.8 149.5 569.7 152.8 570.6 149.5 571.4 146.2 572.3 149.5 573.1 152.8 574.0 149.5 574.9 146.2 575.7 149.5 576.6 152.8 577.5 149.5 578.3 146.2 579.2 149.5 580.1 152.8 580.9 149.5 581.8 146.2 582.7 149.5 583.5 152.8 584.4 149.5 585.3 146.2 586.1 149.5 587.0 152.8 587.9 149.5 588.7 146.2 589.6 149.5 590.4 152.8 591.3 149.5 592.2 146.2 593.0 149.5 593.9 152.8 594.8 149.5 595.6 146.2 596.5 149.5 597.4 152.8 598.2 149.5 599.1 146.2 600.0 149.5 600.8 152.9 601.7 149.6 602.6 146.3 603.4 149.6 604.3 152.9 605.2 149.6 606.0 146.3 606.9 149.6 607.7 152.9 608.6 149.6 609.5 146.3 610.3 149.6 611.2 152.9 612.1 149.6 612.9 146.3 613.8 149.6 614.7 152.9 615.5 149.6 616.4 146.3 617.3 149.6 618.1 152.9 619.0 149.6 619.9 146.3 620.7 149.6 621.6 152.9 622.5 149.6 623.3 146.3 624.2 149.6 625.0 152.9 625.9 149.6 626.8 146.3 627.6 149.6 628.5 152.9 629.4 149.6 630.2 146.3 631.1 149.6 632.0 152.9 632.8 149.6 633.7 146.3 634.6 149.6 635.4 152.9 636.3 149.6 637.2 146.3 638.0 149.6 638.9 152.9 639.8 149.6 640.6 146.3 641.5 149.6 642.3 152.9 643.2 149.6 644.1 146.3 644.9 149.6 645.8 152.9 646.7 149.6 647.5 146.3 648.4 149.6 649.3 152.9 650.1 149.6 651.0 146.3 651.9 149.6 652.7 152.9 653.6 149.6 654.5 146.3 655.3 149.6 656.2 152.9 657.1 149.6 657.9 146.3 658.8 149.6 659.6 152.9 660.5 149.6 661.4 146.3 662.2 149.6 663.1 152.9 664.0 149.6 664.8 146.3 665.7 149.6 666.6 152.9 667.4 149.6 668.3 146.3 669.2 149.6 670.0 152.9 670.9 149.6 671.8 146.3 672.6 149.6 673.5 152.9 674.4 149.6 675.2 146.3 676.1 149.6 676.9 152.9 677.8 149.6 678.7 146.3 679.5 149.6 680.4 152.9 681.3 149.6 682.1 146.3 683.0 149.6 683.9 152.9 684.7 149.6 685.6 146.3 686.5 149.6 687.3 152.9 688.2 149.6 689.1 146.3 689.9 149.6 690.8 152.9 691.7 149.6 692.5 146.3 693.4 149.6 694.2 152.9 695.1 149.6 696.0 146.3 696.8 149.6 697.7 152.9 698.6 149.6 699.4 146.3 700.3 149.6 701.2 152.9 702.0 149.6 702.9 146.3 703.8 149.6 704.6 152.9 705.5 149.6 706.4 146.3 707.2 149.6 708.1 152.9 709.0 149.6 709.8 146.3 710.7 149.6 711.5 152.9 712.4 149.6 713.3 146.3 714.1 149.6 715.0 152.9 715.9 149.6 716.7 146.3 717.6 149.6 718.5 152.9 719.3 149.6 720.2 146.3 721.1 149.6 721.9 152.9 722.8 149.6 723.7 146.3 724.5 149.6 725.4 152.9 726.3 149.6 727.1 146.3 728.0 149.6 728.8 152.9 729.7 149.6 730.6 146.3 731.4 149.6 732.3 152.9 733.2 149.6 734.0 146.3 734.9 149.6 735.8 152.9 736.6 149.6 737.5 146.3 738.4 149.6 739.2 152.9 740.1 149.6 741.0 146.3 741.8 149.6 742.7 152.9 743.6 149.6 744.4 146.3 745.3 149.6 746.1 152.9 747.0 149.6 747.9 146.3 748.7 149.6 749.6 152.9 750.5 149.6 751.3 146.3 752.2 149.6 753.1 152.9 753.9 149.6 754.8 146.3 755.7 149.6 756.5 152.9 757.4 149.6 758.3 146.3 759.1 149.6 760.0 152.9 760.9 149.6 761.7 146.3 762.6 149.6 763.4 152.9 764.3 149.6 765.2 146.3 766.0 149.6 766.9 152.9 767.8 149.6 768.6 146.3 769.5 149.6 770.4 152.9 771.2 149.6 772.1 146.3 773.0 149.6 773.8 152.9 774.7 149.6 775.6 146.3 776.4 149.6 777.3 152.9 778.2 149.6 779.0 146.3 779.9 149.6 780.7 152.9" stroke="#0000ff" stroke-width="1.65" fill="none" stroke-linejoin="round"/>
<path d="M164.0 379.5 164.9 374.7 165.7 369.4 166.4 366.2M168.0 359.3 168.3 357.6 169.2 351.4 170.1 345.2 170.9 341.5M172.5 335.0 172.7 334.3 173.5 330.4 174.4 328.9 175.2 327.7 176.1 324.7 177.0 321.6 177.2 321.3M178.8 319.5 179.6 316.5 180.4 313.0 181.3 312.2 182.2 311.4 183.0 307.8 183.9 304.0 184.5 303.6M186.1 300.6 186.5 298.9 187.4 294.9 188.2 294.3 189.1 293.7 190.0 289.5 190.8 285.1M192.4 283.6 192.5 283.5 193.4 278.7 194.3 273.8 195.1 273.0 196.0 272.3 196.9 267.2 197.2 265.2M198.8 261.1 199.5 260.7 200.3 255.4 201.2 250.1 202.1 249.7 202.9 249.4 203.5 245.9M205.1 238.6 205.5 238.5 206.4 238.3 207.3 232.8 208.1 227.1 209.0 227.0 209.8 226.8 210.7 221.0M212.3 214.4 212.4 214.4 213.3 214.0 214.2 207.7 215.0 201.5 215.9 201.4 216.8 201.3 217.0 199.7M218.6 189.4 219.4 189.3 220.2 189.3 221.1 183.1 222.0 176.9 222.8 176.7 223.4 176.6M225.0 167.7 225.4 164.9 226.3 165.3 227.1 165.7 228.0 160.4 228.7 156.2M230.3 156.0 230.6 156.2 231.5 151.3 232.3 146.6 232.6 146.8M234.2 147.0 234.9 143.2 235.8 138.8 236.7 139.5 237.5 140.2 238.4 136.2 238.5 135.7M240.6 133.1 241.0 133.3 241.9 129.6 242.7 126.1 243.6 127.1 244.4 128.4 245.3 125.9 246.2 123.5 246.8 124.7M249.2 123.5 249.6 122.4 250.5 124.2 251.4 126.1 252.2 124.0 253.1 122.0 254.0 124.2 254.8 126.4 255.7 124.8 256.6 123.3 257.2 125.3M260.3 126.8 260.9 128.6 261.7 131.3 262.6 130.0 263.5 128.8 264.3 131.7 265.2 134.6 266.1 133.6 266.9 132.6 267.8 135.3 268.4 137.1M272.3 140.0 273.0 139.0 273.9 137.9 274.7 140.3 275.6 142.7 276.5 141.7 277.3 140.7 278.2 143.1 279.0 145.5 279.9 144.4 280.8 143.4 281.0 144.0" stroke="#000" stroke-width="1.90" fill="none" stroke-linejoin="round"/>
<path d="M283.5 146.8 284.2 146.0 285.1 148.2 286.0 150.4 286.8 149.6 287.7 148.8 288.6 151.1 289.0 152.3M294.1 155.2 294.6 154.7 295.5 156.6 296.3 158.5 297.2 157.6 298.1 156.7 298.9 158.6 299.8 160.4 300.7 159.6 301.5 158.9 302.4 160.8 303.3 162.7 303.9 162.1M309.3 165.1 309.3 165.2 310.2 166.9 311.1 166.0 311.9 165.1 312.8 166.8 313.6 168.5 314.5 167.6 315.4 166.6 316.2 168.3 317.1 170.0 318.0 169.0 318.8 168.0 319.7 169.7 319.8 169.9M325.8 171.0 326.6 172.6 327.5 174.2 328.4 173.3 329.2 172.3 330.1 173.9 330.9 175.5 331.8 174.5 332.7 173.5 333.5 175.0 334.4 176.5 335.3 175.4 336.1 174.3 336.4 174.7M343.2 175.4 343.9 176.5 344.8 177.8 345.7 176.6 346.5 175.4 347.4 176.7 348.2 177.9 349.1 176.7 350.0 175.5 350.8 176.7 351.7 177.8 352.6 176.6 353.4 175.3 354.3 176.5 354.6 176.8M361.2 175.6 361.2 175.6 362.1 176.6 363.0 175.3 363.8 174.0 364.7 175.0 365.5 176.0 366.4 174.7 367.3 173.4 368.1 174.4 369.0 175.3 369.9 174.1 370.7 172.8 371.6 173.8 372.3 174.5M379.5 172.8 380.3 171.7 381.1 170.4 382.0 171.2 382.8 172.0 383.7 170.7 384.6 169.4 385.4 170.2 386.3 171.0 387.2 169.7 388.0 168.4 388.9 169.2 389.8 170.0 390.4 169.1M396.7 168.0 397.6 166.8 398.4 165.6 399.3 166.3 400.1 167.0 401.0 165.8 401.9 164.6 402.7 165.3 403.6 166.0 404.5 164.8 405.3 163.7 406.2 164.4 407.1 165.1 407.9 163.9 408.4 163.3M415.7 161.1 415.7 161.1 416.6 161.7 417.4 162.4 418.3 161.3 419.2 160.2 420.0 160.9 420.9 161.5 421.8 160.5 422.6 159.5 423.5 160.1 424.4 160.8 425.2 159.8 426.1 158.8 427.0 159.5 427.8 160.1 428.3 159.6M435.5 158.1 435.6 158.0 436.5 157.1 437.3 157.7 438.2 158.3 439.1 157.4 439.9 156.6 440.8 157.2 441.7 157.8 442.5 157.0 443.4 156.1 444.3 156.8 445.1 157.4 446.0 156.6 446.9 155.9 447.7 156.5 448.6 157.2 449.5 156.5 450.0 156.1M458.0 156.7 458.1 156.8 459.0 157.5 459.8 156.9 460.7 156.3 461.6 157.0 462.4 157.8 463.3 157.2 464.2 156.5 465.0 157.3 465.9 158.1 466.8 157.5 467.6 156.8 468.5 157.6 469.3 158.4 470.2 157.8 471.1 157.1 471.9 157.9 472.5 158.4M482.5 159.0 483.2 159.6 484.1 159.0 484.9 158.4 485.8 159.2 486.6 160.0 487.5 159.4 488.4 158.8 489.2 159.6 490.1 160.4 491.0 159.8 491.8 159.1 492.7 159.9 493.6 160.7 494.4 160.1 495.3 159.5 496.2 160.3 497.0 161.1 497.8 160.6M507.8 162.0 508.3 161.7 509.1 161.1 510.0 161.9 510.9 162.7 511.7 162.1 512.6 161.5 513.5 162.3 514.3 163.1 515.2 162.5 516.1 161.9 516.9 162.7 517.8 163.5 518.7 162.9 519.5 162.3 520.4 163.1 521.2 163.9 522.1 163.3 523.0 162.6 523.8 163.4 524.7 164.2 525.6 163.5 526.4 162.9 527.3 163.7 528.2 164.4 528.6 164.1M537.6 164.2 537.7 164.2 538.5 165.0 539.4 164.3 540.3 163.6 541.1 164.4 542.0 165.1 542.9 164.5 543.7 163.8 544.6 164.5 545.5 165.3 546.3 164.6 547.2 163.9 548.1 164.6 548.9 165.3 549.8 164.7 550.7 164.0 551.5 164.7 552.4 165.4 553.3 164.7 553.9 164.2M563.8 164.4 564.5 163.8 565.4 164.5 566.2 165.2 567.1 164.5 568.0 163.7 568.8 164.4 569.7 165.1 570.6 164.4 571.4 163.6 572.3 164.3 573.1 165.0 574.0 164.3 574.9 163.5 575.7 164.2 576.6 164.9 577.5 164.2 578.3 163.4 579.2 164.1M588.0 163.8 588.7 163.2 589.6 163.9 590.4 164.5 591.3 163.8 592.2 163.1 593.0 163.8 593.9 164.4 594.8 163.7 595.6 163.0 596.5 163.7 597.4 164.4 598.2 163.6 599.1 162.9 600.0 163.6 600.8 164.3 601.7 163.6 602.6 162.8 603.4 163.5 603.5 163.6M611.6 163.7 612.1 163.4 612.9 162.6 613.8 163.3 614.7 164.0 615.5 163.3 616.4 162.6 617.3 163.3 618.1 164.0 619.0 163.3 619.9 162.6 620.7 163.3 621.6 164.0 622.5 163.3 623.3 162.6 624.2 163.3 625.0 164.0 625.9 163.3 626.0 163.2M629.5 163.2 630.2 162.6 631.1 163.3 632.0 164.0 632.8 163.3 633.7 162.6 634.6 163.3 635.4 164.0 636.3 163.3 637.2 162.6 638.0 163.3 638.9 164.0 639.8 163.3 640.6 162.6 641.5 163.3 642.3 164.0 642.4 164.0M650.5 163.0 651.0 162.6 651.9 163.3 652.7 164.0 653.6 163.3 654.5 162.6 655.3 163.3 656.2 164.0 657.1 163.3 657.9 162.6 658.8 163.3 659.6 164.0 660.5 163.3 661.4 162.6 662.2 163.3 663.1 164.0 664.0 163.3 664.0 163.3M672.2 163.0 672.6 163.3 673.5 164.0 674.4 163.3 675.2 162.6 676.1 163.3 676.9 164.0 677.8 163.3 678.7 162.6 679.5 163.3 680.4 164.0 681.3 163.3 682.1 162.6 683.0 163.3 683.9 164.0 684.7 163.3 684.8 163.2M692.8 162.8 693.4 163.3 694.2 164.0 695.1 163.3 696.0 162.6 696.8 163.3 697.7 164.0 698.6 163.3 699.4 162.6 700.3 163.3 701.2 164.0 702.0 163.3 702.9 162.6 703.8 163.3 704.6 164.0 705.5 163.3 706.4 162.6 706.5 162.7M713.5 162.8 714.1 163.3 715.0 164.0 715.9 163.3 716.7 162.6 717.6 163.3 718.5 164.0 719.3 163.3 720.2 162.6 721.1 163.3 721.9 164.0 722.8 163.4 723.7 162.7 724.5 163.4 725.4 164.1 726.3 163.4 726.8 162.9M733.3 163.3 734.0 162.7 734.9 163.4 735.8 164.1 736.6 163.4 737.5 162.7 738.4 163.4 739.2 164.1 740.1 163.5 741.0 162.8 741.8 163.5 742.7 164.2 743.6 163.5 744.4 162.8 745.3 163.5 746.1 164.2 747.0 163.5 747.9 162.8 748.7 163.5 749.6 164.2 750.5 163.5 751.3 162.8 752.2 163.5 753.1 164.2 753.9 163.6 754.8 162.9 755.0 163.0M762.2 163.3 762.6 163.6 763.4 164.3 764.3 163.6 765.2 163.0 766.0 163.7 766.9 164.4 767.8 163.7 768.6 163.0 769.5 163.7 770.4 164.4 771.2 163.7 772.1 163.0 773.0 163.7 773.8 164.4 774.7 163.7 774.9 163.6M779.5 163.5 779.9 163.8 780.7 164.5" stroke="#000" stroke-width="1.35" fill="none" stroke-linejoin="round"/>
<path d="M282.2 153.1 282.5 154.2 283.4 153.7 284.2 153.3 285.1 156.2 286.0 159.1 286.8 158.6 287.7 158.1 288.1 159.4M293.0 167.4 293.8 166.9 294.6 166.3 295.5 168.9 296.3 171.4 297.2 170.9 298.1 170.4 298.9 172.9 299.8 175.5 300.6 175.1M304.9 179.7 305.0 179.6 305.9 182.3 306.7 185.0 307.6 184.6 308.5 184.3 309.3 186.9 310.2 189.6 311.1 189.1 311.9 188.7 312.8 191.1 313.6 193.4M319.5 196.7 319.7 197.2 320.6 199.6 321.4 199.2 322.3 198.8 323.2 201.5 324.0 204.2 324.9 203.9 325.8 203.6 326.6 206.3 327.0 207.5M333.4 214.3 333.5 214.7 334.4 217.3 335.3 216.8 336.1 216.4 337.0 219.0 337.9 221.6 338.7 221.3 338.9 221.2M344.3 229.5 344.8 231.0 345.7 230.6 346.5 230.2 347.4 232.7 348.2 235.2 349.1 234.7 350.0 234.1 350.8 236.5 351.7 238.8 352.4 238.3M357.8 243.0 358.6 245.2 359.5 244.5 360.4 243.9 361.2 246.2 362.1 248.7 363.0 248.1 363.8 247.6 364.7 250.2 365.5 252.8 366.4 252.4 366.9 252.2M371.4 258.7 371.6 259.3 372.5 261.9 373.3 261.5 374.2 261.0 375.1 263.4 375.9 265.8 376.8 265.2 377.7 264.6 377.7 264.7M384.5 271.2 384.6 271.1 385.4 273.5 386.3 275.8 387.2 275.1 388.0 274.5 388.9 276.9 389.8 279.4 390.6 278.8 391.5 278.3 392.0 279.7M395.6 284.0 395.8 284.7 396.7 287.1 397.6 286.6 398.4 286.0 399.3 288.4 400.1 290.7 401.0 290.1 401.9 289.4 402.7 291.7 403.5 293.7M409.8 298.1 410.5 300.0 411.4 299.3 412.3 298.6 413.1 300.9 414.0 303.2 414.9 302.5 415.7 301.9 416.6 304.2 417.4 306.6 418.0 306.2M423.4 311.0 423.5 311.3 424.4 313.7 425.2 313.0 426.1 312.4 427.0 314.7 427.8 317.0 428.7 316.3 429.6 315.6 430.4 317.9 431.3 320.1 431.5 320.0M436.9 322.7 437.3 323.9 438.2 326.1 439.1 325.4 439.9 324.6 440.8 326.8 441.7 329.1 442.5 328.3 443.4 327.5 444.3 329.7 445.0 331.6M450.5 333.7 451.2 335.5 452.0 337.7 452.9 336.9 453.8 336.1 454.6 338.4 455.5 340.6 456.4 339.9 457.2 339.2 458.1 341.5 459.0 343.8 459.5 343.4M464.0 345.7 464.2 345.6 465.0 347.9 465.9 350.2 466.8 349.4 467.6 348.7 468.5 350.9 469.3 353.1 470.2 352.3 471.1 351.5 471.9 353.6 472.8 355.8 473.0 355.6M478.5 357.9 478.9 358.8 479.7 360.9 480.6 360.0 481.5 359.2 482.3 361.3 483.2 363.4 484.1 362.6 484.9 361.7 485.8 363.9 486.6 366.0 487.5 365.2M493.0 369.7 493.6 371.1 494.4 370.2 495.3 369.3 496.2 371.5 497.0 373.6 497.9 372.7 498.8 371.8 499.6 373.9 500.5 376.0 501.4 375.1 501.7 374.8M507.2 380.4 507.4 380.9 508.3 380.0 509.1 379.1 510.0 381.2 510.9 383.2 511.7 382.3 512.6 381.4 513.5 383.5 514.3 385.5 515.2 384.6 516.1 383.7 516.9 385.7 517.8 387.8 518.7 386.8 519.5 385.9 519.8 386.6M526.1 390.6 526.4 390.2 527.3 392.2 528.2 394.3 529.0 393.3 529.9 392.4 530.8 394.4 531.6 396.4 532.5 395.5 533.4 394.5 534.2 396.6 535.1 398.7 535.2 398.5M540.6 399.7 541.1 401.0 542.0 403.0 542.9 402.1 543.7 401.1 544.6 403.1 545.5 405.1 546.3 404.1 547.2 403.1 548.1 405.1 548.9 407.1 549.6 406.3M555.0 409.1 555.8 411.0 556.7 410.0 557.6 408.9 558.4 410.9 559.3 412.9 560.2 411.9 561.0 410.8 561.9 412.8 562.8 414.8 563.6 413.8 564.1 413.2M569.5 418.1 569.7 418.6 570.6 417.5 571.4 416.5 572.3 418.4 573.1 420.4 574.0 419.3 574.9 418.3 575.7 420.2 576.6 422.2 577.5 421.1 578.3 420.0 579.2 422.0 579.5 422.6M584.9 423.8 585.3 423.4 586.1 425.3 587.0 427.2 587.9 426.1 588.7 425.1 589.6 427.0 590.4 428.9 591.3 427.8 592.2 426.8 593.0 428.7 593.9 430.6M599.3 430.7 600.0 432.1 600.8 434.0 601.7 432.9 602.6 431.8 603.4 433.7 604.3 435.6 605.2 434.5 606.0 433.3 606.9 435.2 607.7 437.0 608.6 435.9 609.3 434.9M614.7 439.6 615.5 438.5 616.4 437.3 617.3 439.1 618.1 441.0 619.0 439.8 619.9 438.6 620.7 440.4 621.6 442.2 622.5 441.0 623.3 439.8 624.2 441.6 624.6 442.5M627.4 442.4 627.6 442.9 628.5 444.7 629.4 443.5 630.2 442.3 631.1 444.1 632.0 445.9 632.8 444.7 633.7 443.5 634.6 445.3 635.4 447.1 636.3 445.9 637.2 444.7 637.3 445.0M641.5 447.8 642.3 449.6 643.2 448.4 644.1 447.2 644.9 449.0 645.8 450.8 646.7 449.6 647.5 448.4" stroke="#000" stroke-width="1.55" fill="none" stroke-linejoin="round"/></g>
<g fill="#000" fill-rule="evenodd"><path transform="translate(162.60 40.60)" d="M220.88 -2.31 219.75 -1.25 219.62 -1 219.62 -0.62 219.75 -0.38 220.62 0.50 220.94 0.69 221.31 0.69 221.56 0.56 222.56 -0.44 222.62 -1.06 221.50 -2.25ZM204.62 -12.12 204.12 -11.62 204.12 -11.25 204.38 -10.88 204.81 -10.69 206.56 -10.69 206.56 -0.75 204.62 -0.69 204.25 -0.44 204.12 -0.19 204.12 0.19 204.25 0.44 204.62 0.69 210.75 0.69 211.12 0.38 211.25 0 211.12 -0.38 210.88 -0.62 208.88 -0.69 208.75 -0.81 208.75 -6.25 209.44 -8.44 211 -10.06 212.38 -10.75 213.62 -10.75 213.69 -10.69 213.12 -10.06 213.12 -9.56 213.25 -9.31 214.25 -8.38 214.62 -8.25 214.88 -8.31 216 -9.38 216.12 -9.62 216.06 -10.94 215.12 -11.94 214.75 -12.12 212 -12.12 210.19 -11.25 208.81 -9.94 208.81 -11.44 208.69 -11.81 208.31 -12.12ZM189.62 -10.31 189.44 -10 189.44 -8.75 189.75 -8.38 190.12 -8.25 190.94 -8.25 191.31 -8.38 191.62 -8.75 191.56 -10.12 192.81 -10.75 195.62 -10.75 197 -10.06 197.56 -9.50 197.56 -8.44 197.12 -8 192.44 -7.25 190 -6.44 189.50 -6.06 188.62 -4.31 188.62 -2.25 189.62 -0.31 189.88 -0.12 192.31 0.69 195.25 0.69 197.19 -0.31 198.06 -1.25 198.50 -0.44 198.75 -0.19 200.50 0.69 201.75 0.69 202.12 0.44 202.25 0.19 202.25 -0.19 202.12 -0.44 201.75 -0.69 201.06 -0.69 200.44 -1.31 199.81 -2.56 199.81 -8.25 198.94 -10.12 197.81 -11.25 196 -12.12 192.44 -12.12 190.62 -11.25ZM197.56 -6.56 197.56 -2.69 196.31 -1.44 194.88 -0.69 192.75 -0.69 191.44 -1.38 190.81 -2.62 190.81 -3.88 191.38 -5.06 191.56 -5.25 193.12 -5.94 197.25 -6.62ZM178.50 -12.12 175.94 -11.25 174.12 -9.50 173.94 -9.19 173.12 -6.81 173.12 -4.62 173.94 -2.19 175.75 -0.31 176.06 -0.12 178.44 0.69 180.56 0.69 183 -0.12 183.31 -0.31 184.94 -1.94 185.12 -2.31 185 -2.88 184.62 -3.12 184.19 -3.12 183.88 -2.94 182.31 -1.38 180.19 -0.69 178.88 -0.69 177.50 -1.38 176.06 -2.81 175.31 -5 175.31 -5.75 184.50 -5.81 184.81 -5.94 185.12 -6.44 185.12 -8.25 184.25 -10.12 183.12 -11.25 181.31 -12.12ZM175.62 -7.38 176.06 -8.62 177.44 -10 178.94 -10.75 180.94 -10.75 182.19 -10.12 182.88 -8.88 182.81 -7.25 175.69 -7.25ZM144.06 -12.06 142.56 -11.31 141.38 -10.19 141.25 -9.81 141.25 -8.12 141.44 -7.69 142.50 -6.69 144.25 -5.81 148 -4.38 149.75 -3.50 150.25 -3 150.25 -1.94 149.62 -1.31 148.31 -0.69 145.44 -0.69 144.06 -1.38 143.31 -2.12 142.56 -3.69 142.19 -3.94 141.75 -3.94 141.38 -3.62 141.25 -3.25 141.31 0.25 141.75 0.69 142.19 0.69 142.62 0.31 143 -0.44 143.38 -0.12 145.06 0.69 148.88 0.62 150.50 -0.19 151.56 -1.25 151.69 -1.62 151.69 -4.12 151.50 -4.56 150.44 -5.56 148.81 -6.38 144.94 -7.88 143.19 -8.75 142.69 -9.25 142.69 -9.50 143.25 -10.06 144.69 -10.75 147.44 -10.75 148.88 -10.06 149.62 -9.31 150.38 -7.75 150.56 -7.56 151 -7.44 151.25 -7.50 151.56 -7.81 151.69 -8.12 151.62 -11.69 151.38 -12 151.12 -12.12 150.81 -12.12 150.31 -11.75 149.94 -11 149.56 -11.31 147.88 -12.12ZM103.94 -10.31 103.75 -9.94 103.75 -8.81 104.06 -8.38 104.44 -8.25 105.31 -8.25 105.62 -8.38 105.88 -8.62 106 -9 106 -9.81 105.88 -10.12 107.12 -10.75 109.94 -10.75 111.25 -10.12 111.94 -9.44 111.94 -8.50 111.44 -8 106.75 -7.25 104.31 -6.44 103.81 -6.06 102.94 -4.25 102.94 -2.25 103.81 -0.50 104.12 -0.19 106.62 0.69 109.56 0.69 111.50 -0.31 112.38 -1.25 112.81 -0.44 113.06 -0.19 114.81 0.69 116.06 0.69 116.44 0.44 116.56 0.19 116.56 -0.19 116.44 -0.44 116.06 -0.69 115.38 -0.69 114.75 -1.31 114.12 -2.56 114.12 -8.31 113.25 -10.12 112.31 -11.12 110.31 -12.12 106.75 -12.12 104.94 -11.25ZM111.94 -6.56 111.94 -2.81 110.62 -1.44 109.19 -0.69 107.06 -0.69 105.75 -1.38 105.12 -2.69 105.12 -3.88 105.88 -5.25 107.44 -5.94 111.56 -6.62ZM93.69 -12.12 93.25 -11.81 93.12 -11.50 93.19 -11.12 93.50 -10.81 93.88 -10.69 95.56 -10.69 95.56 -0.75 93.62 -0.69 93.19 -0.25 93.19 0.25 93.62 0.69 99.75 0.69 100.06 0.50 100.25 0.19 100.25 -0.19 100.06 -0.50 99.75 -0.69 97.81 -0.75 97.81 -11.62 97.31 -12.12ZM61.50 -10.31 61.31 -9.94 61.31 -8.81 61.62 -8.38 62 -8.25 62.88 -8.25 63.19 -8.38 63.44 -8.62 63.56 -8.94 63.50 -10.12 64.69 -10.75 67.50 -10.75 68.81 -10.12 69.50 -9.44 69.50 -8.50 69 -8 64.31 -7.25 61.88 -6.44 61.38 -6.06 60.50 -4.25 60.50 -2.25 61.38 -0.50 61.69 -0.19 64.19 0.69 67.12 0.69 68.88 -0.19 70 -1.19 70.38 -0.44 70.56 -0.25 72.38 0.69 73.62 0.69 74 0.44 74.12 0.19 74.12 -0.19 74 -0.44 73.62 -0.69 72.94 -0.69 72.38 -1.25 71.69 -2.62 71.69 -8.38 70.81 -10.12 69.88 -11.12 67.88 -12.12 64.31 -12.12 62.50 -11.25ZM69.50 -6.56 69.50 -2.81 68.12 -1.38 66.75 -0.69 64.62 -0.69 63.50 -1.25 63.25 -1.50 62.69 -2.75 62.69 -3.81 63.44 -5.25 65 -5.94 69.12 -6.62ZM2.75 -10.31 2.56 -9.94 2.56 -8.81 2.88 -8.38 3.25 -8.25 4.12 -8.25 4.44 -8.38 4.69 -8.62 4.81 -8.94 4.81 -9.81 4.69 -10.12 5.94 -10.75 8.75 -10.75 10.06 -10.12 10.75 -9.44 10.75 -8.50 10.25 -8 5.56 -7.25 3.12 -6.44 2.62 -6.06 1.75 -4.25 1.75 -2.25 2.62 -0.50 2.94 -0.19 5.44 0.69 8.38 0.69 10.31 -0.31 11.19 -1.25 11.81 -0.25 13.62 0.69 14.88 0.69 15.25 0.44 15.38 0.19 15.38 -0.19 15.25 -0.44 14.88 -0.69 14.19 -0.69 13.62 -1.25 13 -2.44 12.94 -8.31 12.06 -10.12 11.12 -11.12 9.12 -12.12 5.56 -12.12 3.75 -11.25ZM10.75 -6.56 10.75 -2.81 9.38 -1.38 8 -0.69 5.88 -0.69 4.56 -1.38 3.94 -2.69 3.94 -3.81 4.69 -5.25 6.25 -5.94 10.38 -6.62ZM154.69 -17.75 154.44 -17.50 154.31 -17.12 154.44 -16.75 154.88 -16.44 156.81 -16.38 156.81 -0.81 156.69 -0.69 154.81 -0.69 154.38 -0.25 154.31 0 154.44 0.38 154.81 0.69 160.94 0.69 161.31 0.44 161.44 0.19 161.44 -0.19 161.19 -0.56 160.94 -0.69 159 -0.75 159 -8.69 160.44 -10.06 162.31 -10.69 163.75 -10.75 165.06 -10.12 165.75 -8.88 165.75 -0.75 163.81 -0.69 163.38 -0.31 163.38 0.31 163.81 0.69 170.06 0.62 170.44 0.12 170.38 -0.31 170.06 -0.62 168 -0.75 168 -9 167.94 -9.31 167.06 -11 166.69 -11.31 164.25 -12.12 162.19 -12.12 159.75 -11.31 159.06 -10.75 158.94 -17.50 158.69 -17.75 158.31 -17.88 155.06 -17.88ZM119.12 -17.88 118.69 -17.69 118.44 -17.31 118.44 -16.94 118.81 -16.50 120.88 -16.38 120.88 -0.75 118.94 -0.69 118.56 -0.44 118.44 -0.19 118.44 0.19 118.56 0.44 118.94 0.69 125.06 0.69 125.44 0.38 125.56 0.06 125.44 -0.38 125.19 -0.62 123.12 -0.75 123.12 -17.25 122.75 -17.75 122.44 -17.88ZM96.25 -17.88 95.75 -17.62 94.94 -16.81 94.75 -16.31 94.94 -15.81 96.06 -14.81 96.50 -14.81 96.81 -15 97.62 -15.81 97.81 -16.19 97.81 -16.44 97.62 -16.81 96.75 -17.69ZM84.62 -17.81 84.19 -17.38 84.19 -16.94 84.44 -16.56 84.69 -16.44 86.62 -16.38 86.62 -10.81 86.50 -10.75 86 -11.25 84.19 -12.12 82.19 -12.12 79.56 -11.19 77.75 -9.38 76.81 -6.62 76.81 -4.75 77.62 -2.25 77.81 -1.94 79.62 -0.19 82.12 0.69 84.25 0.69 85.94 -0.12 86.56 -0.69 86.62 0.25 87.06 0.69 90.75 0.69 91 0.56 91.25 0.25 91.25 -0.25 91 -0.56 90.75 -0.69 88.81 -0.75 88.81 -17.38 88.50 -17.75 88.12 -17.88ZM82.69 -10.75 83.81 -10.75 85.12 -10.12 86.62 -8.69 86.62 -2.75 85.25 -1.38 83.88 -0.69 82.62 -0.69 81.12 -1.44 79.81 -2.75 79.06 -4.88 79.06 -6.56 79.75 -8.56 81.25 -10.06ZM42.06 -17.75 41.75 -17.38 41.75 -16.94 41.88 -16.69 42.12 -16.50 44.19 -16.38 44.19 -0.75 42.25 -0.69 41.81 -0.38 41.81 0.38 42.25 0.69 48.38 0.69 48.75 0.38 48.81 -0.25 48.38 -0.69 46.38 -0.75 46.38 -8.19 49.69 -8.25 50.94 -7.56 51.56 -6.31 53.25 -0.44 54.44 0.69 56.50 0.69 56.81 0.50 57.81 -1.44 57.81 -2.62 57.69 -2.88 57.38 -3.12 56.75 -3.06 56.44 -2.69 56.44 -1.94 56 -1.50 55.81 -1.50 55.25 -2.06 52.81 -7.75 52.31 -8.25 54.81 -9.06 55.12 -9.25 56.12 -10.25 56.94 -11.88 57 -14.06 56.06 -15.94 54.94 -17 52.25 -17.88 42.44 -17.88ZM46.38 -16.38 52.06 -16.44 53.44 -15.75 54.12 -15.06 54.81 -13.62 54.81 -12.50 54.12 -11.06 53.38 -10.31 52.12 -9.69 46.44 -9.69ZM18.81 -21.12 18.50 -21.06 18.19 -20.81 18.06 -20.56 18.06 -20.25 18.19 -20 19.81 -18.38 21.44 -15.12 22.25 -12.62 22.94 -9.19 22.94 -5.50 22.25 -2.06 21.44 0.44 19.81 3.69 18.19 5.31 18.06 5.56 18.06 5.88 18.38 6.31 18.75 6.44 19.31 6.19 21 4.50 22.62 2.06 24.31 -1.31 25.19 -5.50 25.19 -9.19 24.31 -13.38 22.62 -16.75 21 -19.19 19.31 -20.88Z"/>
<path transform="translate(60.18 69.20)" d="M21.38 -2.44 20.94 -2.19 20.12 -1.38 19.94 -1 19.94 -0.69 20.06 -0.44 21.06 0.56 21.31 0.69 21.69 0.69 21.94 0.56 22.94 -0.44 23.06 -0.69 23.06 -1 22.88 -1.38 21.81 -2.38ZM84.88 -18.75 82.19 -17.81 80.25 -15.06 79.25 -10.31 79.25 -7.75 80.12 -3.31 80.25 -3 81.94 -0.50 82.31 -0.19 84.88 0.69 87.12 0.69 89.81 -0.25 91.75 -3 92.75 -7.75 92.75 -10.31 91.88 -14.75 91.75 -15.06 90.06 -17.56 89.69 -17.88 87.12 -18.75ZM85.38 -17.38 86.69 -17.38 88.06 -16.69 88.81 -16 89.69 -14.25 90.44 -10.50 90.44 -7.56 89.62 -3.62 88.81 -2.06 88.06 -1.38 86.69 -0.69 85.31 -0.69 83.94 -1.38 83.19 -2.06 82.31 -3.81 81.56 -7.56 81.56 -10.50 82.38 -14.44 83.06 -15.81 83.75 -16.56ZM33.25 -18.75 30.69 -17.88 30.44 -17.69 28.56 -14.88 27.69 -10.56 27.69 -7.50 28.56 -3.19 30.38 -0.44 30.69 -0.19 33.25 0.69 35.50 0.69 37.94 -0.12 38.44 -0.44 40.19 -3.06 41.12 -7.50 41.12 -10.56 40.19 -15 38.44 -17.62 37.94 -17.94 35.50 -18.75ZM33.75 -17.38 35.06 -17.38 36.56 -16.62 37.31 -15.88 38.06 -14.31 38.88 -10.19 38.88 -7.81 38 -3.56 37.31 -2.19 36.50 -1.38 35.06 -0.69 33.56 -0.75 32.31 -1.38 31.50 -2.19 30.75 -3.69 29.94 -7.69 29.94 -10.38 30.75 -14.38 31.50 -15.88 32.31 -16.69ZM9.69 -18.75 9.25 -18.75 8.94 -18.56 6.56 -16.12 4.81 -15.25 4.56 -15 4.44 -14.62 4.56 -14.25 4.81 -14 5.38 -13.94 7.25 -14.88 7.81 -15.44 7.88 -15.38 7.88 -0.75 4.94 -0.69 4.56 -0.38 4.44 -0.06 4.56 0.38 4.94 0.69 13.12 0.69 13.50 0.38 13.62 0 13.50 -0.38 13.12 -0.69 10.19 -0.75 10.19 -18.06 10.06 -18.44ZM67.94 -18.81 65 -17.81 64.69 -17.50 62.94 -14.81 62.06 -10.50 62.06 -7.56 62.94 -3.25 64.69 -0.56 65.25 -0.12 67.69 0.69 69.94 0.69 72.69 -0.31 74.62 -3.19 75.50 -7.44 75.50 -10.62 74.62 -14.88 72.88 -17.56 72.50 -17.88 69.94 -18.75ZM68.12 -17.38 69.62 -17.31 70.88 -16.69 71.69 -15.88 72.50 -14.19 73.25 -10.44 73.25 -7.62 72.38 -3.50 71.69 -2.19 70.88 -1.38 69.44 -0.69 68.12 -0.69 66.62 -1.44 65.94 -2.12 65.12 -3.75 64.31 -7.94 64.31 -10.12 65.12 -14.31 65.94 -15.94 66.62 -16.62ZM50.75 -18.81 48.06 -17.94 47.56 -17.62 45.81 -15 44.88 -10.56 44.88 -7.50 45.81 -3.06 47.56 -0.44 48.06 -0.12 50.50 0.69 52.75 0.69 55.31 -0.19 55.56 -0.38 57.44 -3.19 58.31 -7.50 58.31 -10.56 57.44 -14.88 55.62 -17.62 55.31 -17.88 52.69 -18.75ZM50.94 -17.38 52.44 -17.31 53.69 -16.69 54.50 -15.88 55.25 -14.38 56.06 -10.38 56.06 -7.69 55.25 -3.69 54.50 -2.19 53.69 -1.38 52.25 -0.69 50.75 -0.75 49.50 -1.38 48.69 -2.19 47.94 -3.75 47.12 -7.88 47.12 -10.19 48 -14.50 48.69 -15.88 49.44 -16.62Z"/>
<path transform="translate(60.18 161.60)" d="M21.38 -2.44 20.94 -2.19 20.12 -1.38 19.94 -1 19.94 -0.69 20.06 -0.44 21.06 0.56 21.31 0.69 21.69 0.69 21.94 0.56 22.94 -0.44 23.06 -0.69 23.06 -1 22.88 -1.38 21.81 -2.38ZM84.88 -18.75 82.19 -17.81 80.25 -15.06 79.25 -10.31 79.25 -7.75 80.12 -3.31 80.25 -3 81.94 -0.50 82.31 -0.19 84.88 0.69 87.12 0.69 89.81 -0.25 91.75 -3 92.75 -7.75 92.75 -10.31 91.88 -14.75 91.75 -15.06 90.06 -17.56 89.69 -17.88 87.12 -18.75ZM85.38 -17.38 86.69 -17.38 88.06 -16.69 88.81 -16 89.69 -14.25 90.44 -10.50 90.44 -7.56 89.62 -3.62 88.81 -2.06 88.06 -1.38 86.69 -0.69 85.31 -0.69 83.94 -1.38 83.19 -2.06 82.31 -3.81 81.56 -7.56 81.56 -10.50 82.38 -14.44 83.06 -15.81 83.75 -16.56ZM35.44 -18.75 35.06 -18.75 34.75 -18.56 32.19 -16 30.62 -15.25 30.25 -14.75 30.31 -14.31 30.62 -14 31.19 -13.94 33.06 -14.88 33.62 -15.44 33.69 -15.38 33.69 -0.75 30.75 -0.69 30.31 -0.31 30.25 -0.12 30.31 0.31 30.75 0.69 38.88 0.69 39.12 0.56 39.38 0.25 39.31 -0.38 38.88 -0.69 36.06 -0.69 35.94 -0.81 36 -18.06 35.88 -18.44ZM67.94 -18.81 65 -17.81 64.69 -17.50 62.94 -14.81 62.06 -10.50 62.06 -7.56 62.94 -3.25 64.69 -0.56 65.25 -0.12 67.69 0.69 69.94 0.69 72.69 -0.31 74.62 -3.19 75.50 -7.44 75.50 -10.62 74.62 -14.88 72.88 -17.56 72.50 -17.88 69.94 -18.75ZM68.12 -17.38 69.62 -17.31 70.88 -16.69 71.69 -15.88 72.50 -14.19 73.25 -10.44 73.25 -7.62 72.38 -3.50 71.69 -2.19 70.88 -1.38 69.44 -0.69 68.12 -0.69 66.62 -1.44 65.94 -2.12 65.12 -3.75 64.31 -7.94 64.31 -10.12 65.12 -14.31 65.94 -15.94 66.62 -16.62ZM50.75 -18.81 48.06 -17.94 47.56 -17.62 45.81 -15 44.88 -10.56 44.88 -7.50 45.81 -3.06 47.56 -0.44 48.06 -0.12 50.50 0.69 52.75 0.69 55.31 -0.19 55.56 -0.38 57.44 -3.19 58.31 -7.50 58.31 -10.56 57.44 -14.88 55.62 -17.62 55.31 -17.88 52.69 -18.75ZM50.94 -17.38 52.44 -17.31 53.69 -16.69 54.50 -15.88 55.25 -14.38 56.06 -10.38 56.06 -7.69 55.25 -3.69 54.50 -2.19 53.69 -1.38 52.25 -0.69 50.75 -0.75 49.50 -1.38 48.69 -2.19 47.94 -3.75 47.12 -7.88 47.12 -10.19 48 -14.50 48.69 -15.88 49.44 -16.62ZM7.75 -18.81 5.06 -17.94 4.56 -17.62 2.81 -15 1.88 -10.56 1.88 -7.50 2.81 -3.06 4.56 -0.44 5.06 -0.12 7.50 0.69 9.75 0.69 12.31 -0.19 12.56 -0.38 14.44 -3.19 15.31 -7.50 15.31 -10.56 14.44 -14.88 12.62 -17.62 12.31 -17.88 9.69 -18.75ZM7.94 -17.38 9.44 -17.31 10.69 -16.69 11.50 -15.88 12.25 -14.38 13.06 -10.38 13.06 -7.69 12.25 -3.69 11.50 -2.19 10.69 -1.38 9.25 -0.69 7.75 -0.75 6.50 -1.38 5.69 -2.19 4.94 -3.75 4.12 -7.88 4.12 -10.19 5 -14.50 5.69 -15.88 6.44 -16.62Z"/>
<path transform="translate(60.18 261.10)" d="M21.38 -2.44 20.94 -2.19 20.12 -1.38 19.94 -1 19.94 -0.69 20.06 -0.44 21.06 0.56 21.31 0.69 21.69 0.69 21.94 0.56 22.94 -0.44 23.06 -0.69 23.06 -1 22.88 -1.38 21.81 -2.38ZM84.88 -18.75 82.19 -17.81 80.25 -15.06 79.25 -10.31 79.25 -7.75 80.12 -3.31 80.25 -3 81.94 -0.50 82.31 -0.19 84.88 0.69 87.12 0.69 89.81 -0.25 91.75 -3 92.75 -7.75 92.75 -10.31 91.88 -14.75 91.75 -15.06 90.06 -17.56 89.69 -17.88 87.12 -18.75ZM85.38 -17.38 86.69 -17.38 88.06 -16.69 88.81 -16 89.69 -14.25 90.44 -10.50 90.44 -7.56 89.62 -3.62 88.81 -2.06 88.06 -1.38 86.69 -0.69 85.31 -0.69 83.94 -1.38 83.19 -2.06 82.31 -3.81 81.56 -7.56 81.56 -10.50 82.38 -14.44 83.06 -15.81 83.75 -16.56ZM52.69 -18.75 52.25 -18.75 51.94 -18.56 49.56 -16.12 47.81 -15.25 47.56 -15 47.44 -14.62 47.56 -14.25 47.81 -14 48.38 -13.94 50.25 -14.88 50.81 -15.44 50.88 -15.38 50.88 -0.75 47.94 -0.69 47.56 -0.38 47.44 -0.06 47.56 0.38 47.94 0.69 56.12 0.69 56.50 0.38 56.62 0 56.50 -0.38 56.12 -0.69 53.19 -0.75 53.19 -18.06 53.06 -18.44ZM33.25 -18.75 30.69 -17.88 30.44 -17.69 28.56 -14.88 27.69 -10.56 27.69 -7.50 28.56 -3.19 30.38 -0.44 30.69 -0.19 33.25 0.69 35.50 0.69 37.94 -0.12 38.44 -0.44 40.19 -3.06 41.12 -7.50 41.12 -10.56 40.19 -15 38.44 -17.62 37.94 -17.94 35.50 -18.75ZM33.75 -17.38 35.06 -17.38 36.56 -16.62 37.31 -15.88 38.06 -14.31 38.88 -10.19 38.88 -7.81 38 -3.56 37.31 -2.19 36.50 -1.38 35.06 -0.69 33.56 -0.75 32.31 -1.38 31.50 -2.19 30.75 -3.69 29.94 -7.69 29.94 -10.38 30.75 -14.38 31.50 -15.88 32.31 -16.69ZM67.94 -18.81 65 -17.81 64.69 -17.50 62.94 -14.81 62.06 -10.50 62.06 -7.56 62.94 -3.25 64.69 -0.56 65.25 -0.12 67.69 0.69 69.94 0.69 72.69 -0.31 74.62 -3.19 75.50 -7.44 75.50 -10.62 74.62 -14.88 72.88 -17.56 72.50 -17.88 69.94 -18.75ZM68.12 -17.38 69.62 -17.31 70.88 -16.69 71.69 -15.88 72.50 -14.19 73.25 -10.44 73.25 -7.62 72.38 -3.50 71.69 -2.19 70.88 -1.38 69.44 -0.69 68.12 -0.69 66.62 -1.44 65.94 -2.12 65.12 -3.75 64.31 -7.94 64.31 -10.12 65.12 -14.31 65.94 -15.94 66.62 -16.62ZM7.75 -18.81 5.06 -17.94 4.56 -17.62 2.81 -15 1.88 -10.56 1.88 -7.50 2.81 -3.06 4.56 -0.44 5.06 -0.12 7.50 0.69 9.75 0.69 12.31 -0.19 12.56 -0.38 14.44 -3.19 15.31 -7.50 15.31 -10.56 14.44 -14.88 12.62 -17.62 12.31 -17.88 9.69 -18.75ZM7.94 -17.38 9.44 -17.31 10.69 -16.69 11.50 -15.88 12.25 -14.38 13.06 -10.38 13.06 -7.69 12.25 -3.69 11.50 -2.19 10.69 -1.38 9.25 -0.69 7.75 -0.75 6.50 -1.38 5.69 -2.19 4.94 -3.75 4.12 -7.88 4.12 -10.19 5 -14.50 5.69 -15.88 6.44 -16.62Z"/>
<path transform="translate(60.18 360.60)" d="M21.38 -2.44 20.94 -2.19 20.12 -1.38 19.94 -1 19.94 -0.69 20.06 -0.44 21.06 0.56 21.31 0.69 21.69 0.69 21.94 0.56 22.94 -0.44 23.06 -0.69 23.06 -1 22.88 -1.38 21.81 -2.38ZM84.88 -18.75 82.19 -17.81 80.25 -15.06 79.25 -10.31 79.25 -7.75 80.12 -3.31 80.25 -3 81.94 -0.50 82.31 -0.19 84.88 0.69 87.12 0.69 89.81 -0.25 91.75 -3 92.75 -7.75 92.75 -10.31 91.88 -14.75 91.75 -15.06 90.06 -17.56 89.69 -17.88 87.12 -18.75ZM85.38 -17.38 86.69 -17.38 88.06 -16.69 88.81 -16 89.69 -14.25 90.44 -10.50 90.44 -7.56 89.62 -3.62 88.81 -2.06 88.06 -1.38 86.69 -0.69 85.31 -0.69 83.94 -1.38 83.19 -2.06 82.31 -3.81 81.56 -7.56 81.56 -10.50 82.38 -14.44 83.06 -15.81 83.75 -16.56ZM69.88 -18.75 69.44 -18.75 69.12 -18.56 66.69 -16.06 65 -15.25 64.69 -14.88 64.75 -14.25 65.12 -13.94 65.56 -13.94 67.38 -14.81 68 -15.44 68.12 -15.38 68.12 -0.81 68 -0.69 65.12 -0.69 64.69 -0.25 64.69 0.25 65.12 0.69 73.31 0.69 73.69 0.38 73.81 0.12 73.69 -0.38 73.31 -0.69 70.38 -0.75 70.38 -18.12 70.25 -18.44ZM33.25 -18.75 30.69 -17.88 30.44 -17.69 28.56 -14.88 27.69 -10.56 27.69 -7.50 28.56 -3.19 30.38 -0.44 30.69 -0.19 33.25 0.69 35.50 0.69 37.94 -0.12 38.44 -0.44 40.19 -3.06 41.12 -7.50 41.12 -10.56 40.19 -15 38.44 -17.62 37.94 -17.94 35.50 -18.75ZM33.75 -17.38 35.06 -17.38 36.56 -16.62 37.31 -15.88 38.06 -14.31 38.88 -10.19 38.88 -7.81 38 -3.56 37.31 -2.19 36.50 -1.38 35.06 -0.69 33.56 -0.75 32.31 -1.38 31.50 -2.19 30.75 -3.69 29.94 -7.69 29.94 -10.38 30.75 -14.38 31.50 -15.88 32.31 -16.69ZM50.75 -18.81 48.06 -17.94 47.56 -17.62 45.81 -15 44.88 -10.56 44.88 -7.50 45.81 -3.06 47.56 -0.44 48.06 -0.12 50.50 0.69 52.75 0.69 55.31 -0.19 55.56 -0.38 57.44 -3.19 58.31 -7.50 58.31 -10.56 57.44 -14.88 55.62 -17.62 55.31 -17.88 52.69 -18.75ZM50.94 -17.38 52.44 -17.31 53.69 -16.69 54.50 -15.88 55.25 -14.38 56.06 -10.38 56.06 -7.69 55.25 -3.69 54.50 -2.19 53.69 -1.38 52.25 -0.69 50.75 -0.75 49.50 -1.38 48.69 -2.19 47.94 -3.75 47.12 -7.88 47.12 -10.19 48 -14.50 48.69 -15.88 49.44 -16.62ZM7.75 -18.81 5.06 -17.94 4.56 -17.62 2.81 -15 1.88 -10.56 1.88 -7.50 2.81 -3.06 4.56 -0.44 5.06 -0.12 7.50 0.69 9.75 0.69 12.31 -0.19 12.56 -0.38 14.44 -3.19 15.31 -7.50 15.31 -10.56 14.44 -14.88 12.62 -17.62 12.31 -17.88 9.69 -18.75ZM7.94 -17.38 9.44 -17.31 10.69 -16.69 11.50 -15.88 12.25 -14.38 13.06 -10.38 13.06 -7.69 12.25 -3.69 11.50 -2.19 10.69 -1.38 9.25 -0.69 7.75 -0.75 6.50 -1.38 5.69 -2.19 4.94 -3.75 4.12 -7.88 4.12 -10.19 5 -14.50 5.69 -15.88 6.44 -16.62Z"/>
<path transform="translate(60.18 449.50)" d="M21.38 -2.44 20.94 -2.19 20.12 -1.38 19.94 -1 19.94 -0.69 20.06 -0.44 21.06 0.56 21.31 0.69 21.69 0.69 21.94 0.56 22.94 -0.44 23.06 -0.69 23.06 -1 22.88 -1.38 21.81 -2.38ZM87.06 -18.75 86.69 -18.75 86.44 -18.62 83.88 -16.06 82.31 -15.31 82 -15.06 81.88 -14.81 81.94 -14.25 82.31 -13.94 82.75 -13.94 84.56 -14.81 85.25 -15.44 85.31 -15.38 85.31 -0.75 82.38 -0.69 82.12 -0.56 81.88 -0.19 81.88 0.19 82 0.44 82.38 0.69 90.50 0.69 90.88 0.44 91 0.19 91 -0.19 90.88 -0.44 90.50 -0.69 87.56 -0.75 87.56 -18.19 87.50 -18.38ZM33.25 -18.75 30.69 -17.88 30.44 -17.69 28.56 -14.88 27.69 -10.56 27.69 -7.50 28.56 -3.19 30.38 -0.44 30.69 -0.19 33.25 0.69 35.50 0.69 37.94 -0.12 38.44 -0.44 40.19 -3.06 41.12 -7.50 41.12 -10.56 40.19 -15 38.44 -17.62 37.94 -17.94 35.50 -18.75ZM33.75 -17.38 35.06 -17.38 36.56 -16.62 37.31 -15.88 38.06 -14.31 38.88 -10.19 38.88 -7.81 38 -3.56 37.31 -2.19 36.50 -1.38 35.06 -0.69 33.56 -0.75 32.31 -1.38 31.50 -2.19 30.75 -3.69 29.94 -7.69 29.94 -10.38 30.75 -14.38 31.50 -15.88 32.31 -16.69ZM67.94 -18.81 65 -17.81 64.69 -17.50 62.94 -14.81 62.06 -10.50 62.06 -7.56 62.94 -3.25 64.69 -0.56 65.25 -0.12 67.69 0.69 69.94 0.69 72.69 -0.31 74.62 -3.19 75.50 -7.44 75.50 -10.62 74.62 -14.88 72.88 -17.56 72.50 -17.88 69.94 -18.75ZM68.12 -17.38 69.62 -17.31 70.88 -16.69 71.69 -15.88 72.50 -14.19 73.25 -10.44 73.25 -7.62 72.38 -3.50 71.69 -2.19 70.88 -1.38 69.44 -0.69 68.12 -0.69 66.62 -1.44 65.94 -2.12 65.12 -3.75 64.31 -7.94 64.31 -10.12 65.12 -14.31 65.94 -15.94 66.62 -16.62ZM50.75 -18.81 48.06 -17.94 47.56 -17.62 45.81 -15 44.88 -10.56 44.88 -7.50 45.81 -3.06 47.56 -0.44 48.06 -0.12 50.50 0.69 52.75 0.69 55.31 -0.19 55.56 -0.38 57.44 -3.19 58.31 -7.50 58.31 -10.56 57.44 -14.88 55.62 -17.62 55.31 -17.88 52.69 -18.75ZM50.94 -17.38 52.44 -17.31 53.69 -16.69 54.50 -15.88 55.25 -14.38 56.06 -10.38 56.06 -7.69 55.25 -3.69 54.50 -2.19 53.69 -1.38 52.25 -0.69 50.75 -0.75 49.50 -1.38 48.69 -2.19 47.94 -3.75 47.12 -7.88 47.12 -10.19 48 -14.50 48.69 -15.88 49.44 -16.62ZM7.75 -18.81 5.06 -17.94 4.56 -17.62 2.81 -15 1.88 -10.56 1.88 -7.50 2.81 -3.06 4.56 -0.44 5.06 -0.12 7.50 0.69 9.75 0.69 12.31 -0.19 12.56 -0.38 14.44 -3.19 15.31 -7.50 15.31 -10.56 14.44 -14.88 12.62 -17.62 12.31 -17.88 9.69 -18.75ZM7.94 -17.38 9.44 -17.31 10.69 -16.69 11.50 -15.88 12.25 -14.38 13.06 -10.38 13.06 -7.69 12.25 -3.69 11.50 -2.19 10.69 -1.38 9.25 -0.69 7.75 -0.75 6.50 -1.38 5.69 -2.19 4.94 -3.75 4.12 -7.88 4.12 -10.19 5 -14.50 5.69 -15.88 6.44 -16.62Z"/>
<path transform="translate(154.51 489.00)" d="M7.75 -18.81 5.06 -17.94 4.56 -17.62 2.81 -15 1.88 -10.56 1.88 -7.50 2.81 -3.06 4.56 -0.44 5.06 -0.12 7.50 0.69 9.75 0.69 12.31 -0.19 12.56 -0.38 14.44 -3.19 15.31 -7.50 15.31 -10.56 14.44 -14.88 12.62 -17.62 12.31 -17.88 9.69 -18.75ZM7.94 -17.38 9.44 -17.31 10.69 -16.69 11.50 -15.88 12.25 -14.38 13.06 -10.38 13.06 -7.69 12.25 -3.69 11.50 -2.19 10.69 -1.38 9.25 -0.69 7.75 -0.75 6.50 -1.38 5.69 -2.19 4.94 -3.75 4.12 -7.88 4.12 -10.19 5 -14.50 5.69 -15.88 6.44 -16.62Z"/>
<path transform="translate(308.83 489.00)" d="M9.69 -18.75 9.25 -18.75 8.94 -18.56 6.56 -16.12 4.81 -15.25 4.56 -15 4.44 -14.62 4.56 -14.25 4.81 -14 5.38 -13.94 7.25 -14.88 7.81 -15.44 7.88 -15.38 7.88 -0.75 4.94 -0.69 4.56 -0.38 4.44 -0.06 4.56 0.38 4.94 0.69 13.12 0.69 13.50 0.38 13.62 0 13.50 -0.38 13.12 -0.69 10.19 -0.75 10.19 -18.06 10.06 -18.44Z"/>
<path transform="translate(463.16 489.00)" d="M3.94 -17.81 2.81 -16.69 1.88 -14.75 1.94 -13.44 3.06 -12.31 3.38 -12.19 3.75 -12.25 4.81 -13.25 5 -13.56 5 -13.94 4.88 -14.19 3.69 -15.31 4.12 -16.06 4.75 -16.62 7 -17.38 10.12 -17.38 11.62 -16.62 12.38 -15.88 13.06 -14.50 13.06 -13.06 12.25 -11.56 9.88 -10 4.81 -7.50 2.94 -5.69 2.75 -5.38 1.88 -2.75 1.94 0.31 2.38 0.69 2.81 0.69 3.19 0.38 3.31 0 3.25 -1.38 3.75 -1.88 5 -1.88 9.25 0.69 13.12 0.69 14.38 -0.50 15.31 -2.38 15.31 -4.50 14.81 -5 14.31 -4.94 14.06 -4.75 13.94 -4.50 13.94 -2.88 13.38 -2.31 11.88 -1.56 9.56 -1.56 5.44 -3.25 3.69 -3.25 3.56 -3.38 4.06 -4.81 5.50 -6.25 7.62 -7.31 11.38 -8.75 14.12 -10.56 14.38 -10.81 15.31 -12.69 15.25 -15 14.25 -16.88 13.44 -17.69 13 -17.94 10.56 -18.75 6.62 -18.75Z"/>
<path transform="translate(617.48 489.00)" d="M6.62 -18.75 3.94 -17.81 2.81 -16.69 1.88 -14.75 1.94 -13.44 2.81 -12.50 3.38 -12.19 3.75 -12.25 4.81 -13.25 5 -13.56 5 -13.94 4.88 -14.19 3.69 -15.31 4.12 -16.06 4.75 -16.62 7 -17.38 10.12 -17.38 11.50 -16.69 12.19 -15.38 12.19 -13 11.56 -11.75 10.06 -11 7.50 -11 7.06 -10.56 7.06 -10.06 7.31 -9.75 7.56 -9.62 10.19 -9.62 11.56 -8.94 12.31 -8.19 13.06 -5.94 13.06 -3.56 12.38 -2.19 11.62 -1.44 10.12 -0.69 7 -0.69 4.62 -1.50 4.06 -2.06 3.69 -2.75 4.88 -3.88 5 -4.12 5 -4.50 4.81 -4.81 4 -5.62 3.50 -5.88 3.06 -5.75 1.94 -4.62 1.88 -3.31 2.81 -1.38 3.94 -0.25 6.62 0.69 10.56 0.69 13 -0.12 13.44 -0.38 14.44 -1.44 15.31 -3.25 15.25 -6.38 14.38 -8.12 12.25 -10.19 13.25 -10.56 13.56 -10.88 14.38 -12.50 14.50 -12.94 14.50 -15.44 14.38 -15.88 13.56 -17.50 13 -17.94 10.56 -18.75Z"/>
<path transform="translate(771.81 489.00)" d="M11.44 -18.75 10.94 -18.75 10.56 -18.44 1.12 -5.56 1 -5.19 1.12 -4.75 1.44 -4.50 1.69 -4.44 9.56 -4.44 9.62 -0.75 7.56 -0.69 7.31 -0.56 7.06 -0.25 7.06 0.25 7.31 0.56 7.56 0.69 13.94 0.69 14.19 0.56 14.44 0.25 14.44 -0.25 14.19 -0.56 13.94 -0.69 11.88 -0.75 11.88 -4.38 15.50 -4.44 15.88 -4.56 16.19 -5.06 16.06 -5.56 15.56 -5.88 11.88 -5.94 11.88 -18.25 11.81 -18.44ZM9.56 -14.62 9.62 -5.94 3.25 -5.88 3.19 -6Z"/>
<path transform="translate(302.50 133.20)" d="M17.62 -18.62 17.38 -18.75 16.88 -18.69 16.56 -18.38 16 -17.19 15.75 -17.06 14.88 -17.88 13.12 -18.75 10.06 -18.75 7.38 -17.81 5.50 -16 3.69 -13.31 2.75 -10.56 1.88 -7.06 1.88 -4.12 2.81 -1.38 3.94 -0.25 6.62 0.69 9.69 0.69 11.62 -0.31 13.50 -2.19 14.44 -4.06 14.44 -4.50 14.31 -4.75 13.94 -5 13.56 -5 13.12 -4.62 12.38 -3.06 10.69 -1.38 9.44 -0.75 7.06 -0.69 5.56 -1.44 4.94 -2.06 4.12 -4.44 4.12 -6.75 4.88 -9.81 5.75 -12.50 7.25 -14.81 9 -16.62 10.50 -17.38 12.69 -17.38 14.12 -16.69 14.94 -15.88 15.62 -14.50 15.62 -12.81 15.75 -12.50 16.25 -12.19 16.75 -12.31 17.06 -12.81 17.88 -17.69 17.88 -18.31Z"/>
<path transform="translate(319.86 140.10)" d="M21.06 -12.38 20.69 -12.25 20.50 -12.06 20.19 -11.31 19.56 -11.81 18.06 -12.31 16.31 -12.31 14.69 -11.75 13.19 -10.25 12.62 -9.12 12.06 -7.44 12.06 -4.19 12.69 -2.38 13.25 -1.31 14.62 0.06 16.38 0.69 18 0.69 19.75 0.06 21.19 -1.38 21.75 -2.50 21.75 -3 21.44 -3.38 21.06 -3.50 20.69 -3.38 20.44 -3.12 19.94 -2.06 19.06 -1.19 17.62 -0.69 16.81 -0.69 15.94 -1.12 15 -2.06 14.50 -3.06 14 -4.56 14 -7.06 14.56 -8.75 14.94 -9.50 16 -10.56 16.75 -10.94 17.75 -10.94 19 -10.50 19.94 -9.56 20.38 -8.12 20.75 -7.69 21.25 -7.62 21.69 -7.94 21.81 -8.31 21.81 -11.69 21.69 -12 21.44 -12.25ZM0.31 -12.31 -0.06 -12 -0.12 -11.44 0.25 -11 1.12 -10.94 1.25 -10.75 4.81 0.12 5.19 0.62 5.75 0.69 6.06 0.50 6.25 0.19 9.88 -10.81 10 -10.94 10.62 -10.94 10.94 -11.06 11.25 -11.56 11.19 -11.94 11 -12.19 10.56 -12.38 7.19 -12.38 6.94 -12.31 6.62 -12.06 6.50 -11.56 6.81 -11.06 7.12 -10.94 8.38 -10.94 8.44 -10.81 5.94 -3.31 5.81 -3.19 3.19 -10.88 4.19 -11 4.56 -11.44 4.50 -12 4.25 -12.25 3.94 -12.38Z"/>
<path transform="translate(342.31 133.20)" d="M104.12 -2.44 103.81 -2.38 103.44 -2.12 102.69 -1.38 102.50 -1 102.50 -0.69 102.62 -0.44 103.62 0.56 104.19 0.75 103.50 2.12 102.62 3 102.50 3.25 102.50 3.62 102.62 3.88 103 4.12 103.44 4.12 104.69 2.94 105.62 1 105.62 -1 105.44 -1.38 104.44 -2.31ZM43.69 -2.44 43.38 -2.25 42.44 -1.31 42.31 -1.06 42.31 -0.62 43.62 0.69 44.06 0.69 44.38 0.50 45.25 -0.38 45.44 -0.94 45.25 -1.38 44.25 -2.31 44 -2.44ZM2.75 -5.38 2.81 -4.81 3.06 -4.56 3.44 -4.44 18.94 -4.44 19.31 -4.56 19.62 -5 19.62 -5.31 19.50 -5.56 19 -5.88 3.38 -5.88 3.06 -5.75ZM2.75 -10.50 2.75 -10.12 2.88 -9.88 3.25 -9.62 19.12 -9.62 19.56 -10 19.62 -10.19 19.50 -10.75 19.12 -11 3.19 -11 2.88 -10.75ZM86.50 -17.81 85.38 -16.69 84.44 -14.75 84.50 -13.44 85.62 -12.31 86.12 -12.19 86.56 -12.44 87.38 -13.25 87.56 -13.62 87.56 -13.94 87.44 -14.19 86.25 -15.31 86.62 -16 87.31 -16.62 89.56 -17.38 92.69 -17.38 94.19 -16.62 94.88 -15.94 95.56 -14.62 95.62 -13.06 94.81 -11.56 92.44 -10 87.38 -7.50 85.50 -5.69 85.31 -5.38 84.44 -2.81 84.44 0.19 84.81 0.62 85.38 0.69 85.75 0.38 85.88 0 85.81 -1.38 86.31 -1.88 87.56 -1.88 91.81 0.69 95.69 0.69 96.94 -0.50 97.88 -2.38 97.88 -4.50 97.38 -5 96.88 -4.94 96.62 -4.75 96.50 -4.50 96.50 -2.88 95.94 -2.31 94.44 -1.56 92.12 -1.56 88 -3.25 86.25 -3.25 86.12 -3.38 86.62 -4.81 88.12 -6.31 90.19 -7.31 93.94 -8.75 96.69 -10.56 96.94 -10.81 97.88 -12.69 97.81 -15 96.81 -16.88 96 -17.69 95.56 -17.94 93.12 -18.75 89.19 -18.75ZM72.81 -18.75 70.25 -17.88 70 -17.69 68.12 -14.88 67.25 -10.56 67.25 -7.50 68.12 -3.19 69.94 -0.44 70.25 -0.19 72.81 0.69 75.06 0.69 77.50 -0.12 78 -0.44 79.69 -3 79.88 -3.50 80.69 -7.56 80.69 -10.50 79.81 -14.81 78 -17.62 77.50 -17.94 75.06 -18.75ZM73.31 -17.38 74.62 -17.38 76.12 -16.62 76.88 -15.88 77.62 -14.31 78.44 -10.19 78.44 -7.88 77.56 -3.56 76.88 -2.19 76.12 -1.44 74.62 -0.69 73.12 -0.75 71.88 -1.38 71.06 -2.19 70.31 -3.69 69.50 -7.69 69.50 -10.38 70.31 -14.38 71.06 -15.88 71.88 -16.69ZM55.62 -18.75 52.88 -17.75 51.06 -15.12 50.88 -14.75 50 -10.31 50 -7.75 50.88 -3.31 52.69 -0.50 53.06 -0.19 55.62 0.69 57.88 0.69 60.56 -0.25 60.88 -0.56 62.62 -3.25 63.50 -7.56 63.50 -10.50 62.62 -14.81 60.88 -17.50 60.31 -17.94 57.88 -18.75ZM56.12 -17.38 57.44 -17.38 58.94 -16.62 59.62 -15.94 60.44 -14.25 61.25 -10.06 61.19 -7.50 60.38 -3.62 59.62 -2.12 58.94 -1.44 57.44 -0.69 56.06 -0.69 54.69 -1.38 53.88 -2.19 53.06 -3.88 52.31 -7.62 52.31 -10.44 53.19 -14.56 53.88 -15.88 54.69 -16.69ZM29.81 -18.75 27.25 -17.88 27 -17.69 25.12 -14.88 24.25 -10.56 24.25 -7.50 25.12 -3.19 26.94 -0.44 27.25 -0.19 29.81 0.69 32.06 0.69 34.50 -0.12 35 -0.44 36.69 -3 36.88 -3.50 37.69 -7.56 37.69 -10.50 36.81 -14.81 35 -17.62 34.50 -17.94 32.06 -18.75ZM30.31 -17.38 31.62 -17.38 33.12 -16.62 33.88 -15.88 34.62 -14.31 35.44 -10.19 35.44 -7.88 34.56 -3.56 33.88 -2.19 33.12 -1.44 31.62 -0.69 30.12 -0.75 28.88 -1.38 28.06 -2.19 27.31 -3.69 26.50 -7.69 26.50 -10.38 27.31 -14.38 28.06 -15.88 28.88 -16.69Z"/>
<path transform="translate(302.50 210.60)" d="M17.62 -18.62 17.38 -18.75 16.88 -18.69 16.56 -18.38 16 -17.19 15.75 -17.06 14.88 -17.88 13.12 -18.75 10.06 -18.75 7.38 -17.81 5.50 -16 3.69 -13.31 2.75 -10.56 1.88 -7.06 1.88 -4.12 2.81 -1.38 3.94 -0.25 6.62 0.69 9.69 0.69 11.62 -0.31 13.50 -2.19 14.44 -4.06 14.44 -4.50 14.31 -4.75 13.94 -5 13.56 -5 13.12 -4.62 12.38 -3.06 10.69 -1.38 9.44 -0.75 7.06 -0.69 5.56 -1.44 4.94 -2.06 4.12 -4.44 4.12 -6.75 4.88 -9.81 5.75 -12.50 7.25 -14.81 9 -16.62 10.50 -17.38 12.69 -17.38 14.12 -16.69 14.94 -15.88 15.62 -14.50 15.62 -12.81 15.75 -12.50 16.25 -12.19 16.75 -12.31 17.06 -12.81 17.88 -17.69 17.88 -18.31Z"/>
<path transform="translate(319.86 217.50)" d="M21.06 -12.38 20.69 -12.25 20.50 -12.06 20.19 -11.31 19.56 -11.81 18.06 -12.31 16.31 -12.31 14.69 -11.75 13.19 -10.25 12.62 -9.12 12.06 -7.44 12.06 -4.19 12.69 -2.38 13.25 -1.31 14.62 0.06 16.38 0.69 18 0.69 19.75 0.06 21.19 -1.38 21.75 -2.50 21.75 -3 21.44 -3.38 21.06 -3.50 20.69 -3.38 20.44 -3.12 19.94 -2.06 19.06 -1.19 17.62 -0.69 16.81 -0.69 15.94 -1.12 15 -2.06 14.50 -3.06 14 -4.56 14 -7.06 14.56 -8.75 14.94 -9.50 16 -10.56 16.75 -10.94 17.75 -10.94 19 -10.50 19.94 -9.56 20.38 -8.12 20.75 -7.69 21.25 -7.62 21.69 -7.94 21.81 -8.31 21.81 -11.69 21.69 -12 21.44 -12.25ZM0.31 -12.31 -0.06 -12 -0.12 -11.44 0.25 -11 1.12 -10.94 1.25 -10.75 4.81 0.12 5.19 0.62 5.75 0.69 6.06 0.50 6.25 0.19 9.88 -10.81 10 -10.94 10.62 -10.94 10.94 -11.06 11.25 -11.56 11.19 -11.94 11 -12.19 10.56 -12.38 7.19 -12.38 6.94 -12.31 6.62 -12.06 6.50 -11.56 6.81 -11.06 7.12 -10.94 8.38 -10.94 8.44 -10.81 5.94 -3.31 5.81 -3.19 3.19 -10.88 4.19 -11 4.56 -11.44 4.50 -12 4.25 -12.25 3.94 -12.38Z"/>
<path transform="translate(342.31 210.60)" d="M2.75 -5.38 2.81 -4.81 3.06 -4.56 3.44 -4.44 18.94 -4.44 19.31 -4.56 19.62 -5 19.62 -5.31 19.50 -5.56 19 -5.88 3.38 -5.88 3.06 -5.75ZM2.75 -10.50 2.75 -10.12 2.88 -9.88 3.25 -9.62 19.12 -9.62 19.56 -10 19.62 -10.19 19.50 -10.75 19.12 -11 3.19 -11 2.88 -10.75ZM29.81 -18.75 27.25 -17.88 27 -17.69 25.12 -14.88 24.25 -10.56 24.25 -7.50 25.12 -3.19 26.94 -0.44 27.25 -0.19 29.81 0.69 32.06 0.69 34.50 -0.12 35 -0.44 36.69 -3 36.88 -3.50 37.69 -7.56 37.69 -10.50 36.81 -14.81 35 -17.62 34.50 -17.94 32.06 -18.75ZM30.31 -17.38 31.62 -17.38 33.12 -16.62 33.88 -15.88 34.62 -14.31 35.44 -10.19 35.44 -7.88 34.56 -3.56 33.88 -2.19 33.12 -1.44 31.62 -0.69 30.12 -0.75 28.88 -1.38 28.06 -2.19 27.31 -3.69 26.50 -7.69 26.50 -10.38 27.31 -14.38 28.06 -15.88 28.88 -16.69Z"/>
<path transform="translate(271.50 263.20)" d="M17.62 -18.62 17.38 -18.75 16.88 -18.69 16.56 -18.38 16 -17.19 15.75 -17.06 14.88 -17.88 13.12 -18.75 10.06 -18.75 7.38 -17.81 5.50 -16 3.69 -13.31 2.75 -10.56 1.88 -7.06 1.88 -4.12 2.81 -1.38 3.94 -0.25 6.62 0.69 9.69 0.69 11.62 -0.31 13.50 -2.19 14.44 -4.06 14.44 -4.50 14.31 -4.75 13.94 -5 13.56 -5 13.12 -4.62 12.38 -3.06 10.69 -1.38 9.44 -0.75 7.06 -0.69 5.56 -1.44 4.94 -2.06 4.12 -4.44 4.12 -6.75 4.88 -9.81 5.75 -12.50 7.25 -14.81 9 -16.62 10.50 -17.38 12.69 -17.38 14.12 -16.69 14.94 -15.88 15.62 -14.50 15.62 -12.81 15.75 -12.50 16.25 -12.19 16.75 -12.31 17.06 -12.81 17.88 -17.69 17.88 -18.31Z"/>
<path transform="translate(288.86 270.10)" d="M21.06 -12.38 20.69 -12.25 20.50 -12.06 20.19 -11.31 19.56 -11.81 18.06 -12.31 16.31 -12.31 14.69 -11.75 13.19 -10.25 12.62 -9.12 12.06 -7.44 12.06 -4.19 12.69 -2.38 13.25 -1.31 14.62 0.06 16.38 0.69 18 0.69 19.75 0.06 21.19 -1.38 21.75 -2.50 21.75 -3 21.44 -3.38 21.06 -3.50 20.69 -3.38 20.44 -3.12 19.94 -2.06 19.06 -1.19 17.62 -0.69 16.81 -0.69 15.94 -1.12 15 -2.06 14.50 -3.06 14 -4.56 14 -7.06 14.56 -8.75 14.94 -9.50 16 -10.56 16.75 -10.94 17.75 -10.94 19 -10.50 19.94 -9.56 20.38 -8.12 20.75 -7.69 21.25 -7.62 21.69 -7.94 21.81 -8.31 21.81 -11.69 21.69 -12 21.44 -12.25ZM0.31 -12.31 -0.06 -12 -0.12 -11.44 0.25 -11 1.12 -10.94 1.25 -10.75 4.81 0.12 5.19 0.62 5.75 0.69 6.06 0.50 6.25 0.19 9.88 -10.81 10 -10.94 10.62 -10.94 10.94 -11.06 11.25 -11.56 11.19 -11.94 11 -12.19 10.56 -12.38 7.19 -12.38 6.94 -12.31 6.62 -12.06 6.50 -11.56 6.81 -11.06 7.12 -10.94 8.38 -10.94 8.44 -10.81 5.94 -3.31 5.81 -3.19 3.19 -10.88 4.19 -11 4.56 -11.44 4.50 -12 4.25 -12.25 3.94 -12.38Z"/>
<path transform="translate(311.31 263.20)" d="M43.69 -2.44 43.38 -2.25 42.44 -1.31 42.31 -1.06 42.31 -0.62 43.62 0.69 44.06 0.69 44.38 0.50 45.25 -0.38 45.44 -0.94 45.25 -1.38 44.25 -2.31 44 -2.44ZM2.75 -5.38 2.81 -4.81 3.06 -4.56 3.44 -4.44 18.94 -4.44 19.31 -4.56 19.62 -5 19.62 -5.31 19.50 -5.56 19 -5.88 3.38 -5.88 3.06 -5.75ZM2.75 -10.50 2.75 -10.12 2.88 -9.88 3.25 -9.62 19.12 -9.62 19.56 -10 19.62 -10.19 19.50 -10.75 19.12 -11 3.19 -11 2.88 -10.75ZM86.50 -17.81 85.38 -16.69 84.44 -14.75 84.50 -13.44 85.62 -12.31 86.12 -12.19 86.56 -12.44 87.38 -13.25 87.56 -13.62 87.56 -13.94 87.44 -14.19 86.25 -15.31 86.62 -16 87.31 -16.62 89.56 -17.38 92.69 -17.38 94.19 -16.62 94.88 -15.94 95.56 -14.62 95.62 -13.06 94.81 -11.56 92.44 -10 87.38 -7.50 85.50 -5.69 85.31 -5.38 84.44 -2.81 84.44 0.19 84.81 0.62 85.38 0.69 85.75 0.38 85.88 0 85.81 -1.38 86.31 -1.88 87.56 -1.88 91.81 0.69 95.69 0.69 96.94 -0.50 97.88 -2.38 97.88 -4.50 97.38 -5 96.88 -4.94 96.62 -4.75 96.50 -4.50 96.50 -2.88 95.94 -2.31 94.44 -1.56 92.12 -1.56 88 -3.25 86.25 -3.25 86.12 -3.38 86.62 -4.81 88.12 -6.31 90.19 -7.31 93.94 -8.75 96.69 -10.56 96.94 -10.81 97.88 -12.69 97.81 -15 96.81 -16.88 96 -17.69 95.56 -17.94 93.12 -18.75 89.19 -18.75ZM72.81 -18.75 70.25 -17.88 70 -17.69 68.12 -14.88 67.25 -10.56 67.25 -7.50 68.12 -3.19 69.94 -0.44 70.25 -0.19 72.81 0.69 75.06 0.69 77.50 -0.12 78 -0.44 79.69 -3 79.88 -3.50 80.69 -7.56 80.69 -10.50 79.81 -14.81 78 -17.62 77.50 -17.94 75.06 -18.75ZM73.31 -17.38 74.62 -17.38 76.12 -16.62 76.88 -15.88 77.62 -14.31 78.44 -10.19 78.44 -7.88 77.56 -3.56 76.88 -2.19 76.12 -1.44 74.62 -0.69 73.12 -0.75 71.88 -1.38 71.06 -2.19 70.31 -3.69 69.50 -7.69 69.50 -10.38 70.31 -14.38 71.06 -15.88 71.88 -16.69ZM55.62 -18.75 52.88 -17.75 51.06 -15.12 50.88 -14.75 50 -10.31 50 -7.75 50.88 -3.31 52.69 -0.50 53.06 -0.19 55.62 0.69 57.88 0.69 60.56 -0.25 60.88 -0.56 62.62 -3.25 63.50 -7.56 63.50 -10.50 62.62 -14.81 60.88 -17.50 60.31 -17.94 57.88 -18.75ZM56.12 -17.38 57.44 -17.38 58.94 -16.62 59.62 -15.94 60.44 -14.25 61.25 -10.06 61.19 -7.50 60.38 -3.62 59.62 -2.12 58.94 -1.44 57.44 -0.69 56.06 -0.69 54.69 -1.38 53.88 -2.19 53.06 -3.88 52.31 -7.62 52.31 -10.44 53.19 -14.56 53.88 -15.88 54.69 -16.69ZM29.81 -18.75 27.25 -17.88 27 -17.69 25.12 -14.88 24.25 -10.56 24.25 -7.50 25.12 -3.19 26.94 -0.44 27.25 -0.19 29.81 0.69 32.06 0.69 34.50 -0.12 35 -0.44 36.69 -3 36.88 -3.50 37.69 -7.56 37.69 -10.50 36.81 -14.81 35 -17.62 34.50 -17.94 32.06 -18.75ZM30.31 -17.38 31.62 -17.38 33.12 -16.62 33.88 -15.88 34.62 -14.31 35.44 -10.19 35.44 -7.88 34.56 -3.56 33.88 -2.19 33.12 -1.44 31.62 -0.69 30.12 -0.75 28.88 -1.38 28.06 -2.19 27.31 -3.69 26.50 -7.69 26.50 -10.38 27.31 -14.38 28.06 -15.88 28.88 -16.69Z"/>
<path transform="translate(271.50 324.30)" d="M17.62 -18.62 17.38 -18.75 16.88 -18.69 16.56 -18.38 16 -17.19 15.75 -17.06 14.88 -17.88 13.12 -18.75 10.06 -18.75 7.38 -17.81 5.50 -16 3.69 -13.31 2.75 -10.56 1.88 -7.06 1.88 -4.12 2.81 -1.38 3.94 -0.25 6.62 0.69 9.69 0.69 11.62 -0.31 13.50 -2.19 14.44 -4.06 14.44 -4.50 14.31 -4.75 13.94 -5 13.56 -5 13.12 -4.62 12.38 -3.06 10.69 -1.38 9.44 -0.75 7.06 -0.69 5.56 -1.44 4.94 -2.06 4.12 -4.44 4.12 -6.75 4.88 -9.81 5.75 -12.50 7.25 -14.81 9 -16.62 10.50 -17.38 12.69 -17.38 14.12 -16.69 14.94 -15.88 15.62 -14.50 15.62 -12.81 15.75 -12.50 16.25 -12.19 16.75 -12.31 17.06 -12.81 17.88 -17.69 17.88 -18.31Z"/>
<path transform="translate(288.86 331.20)" d="M21.06 -12.38 20.69 -12.25 20.50 -12.06 20.19 -11.31 19.56 -11.81 18.06 -12.31 16.31 -12.31 14.69 -11.75 13.19 -10.25 12.62 -9.12 12.06 -7.44 12.06 -4.19 12.69 -2.38 13.25 -1.31 14.62 0.06 16.38 0.69 18 0.69 19.75 0.06 21.19 -1.38 21.75 -2.50 21.75 -3 21.44 -3.38 21.06 -3.50 20.69 -3.38 20.44 -3.12 19.94 -2.06 19.06 -1.19 17.62 -0.69 16.81 -0.69 15.94 -1.12 15 -2.06 14.50 -3.06 14 -4.56 14 -7.06 14.56 -8.75 14.94 -9.50 16 -10.56 16.75 -10.94 17.75 -10.94 19 -10.50 19.94 -9.56 20.38 -8.12 20.75 -7.69 21.25 -7.62 21.69 -7.94 21.81 -8.31 21.81 -11.69 21.69 -12 21.44 -12.25ZM0.31 -12.31 -0.06 -12 -0.12 -11.44 0.25 -11 1.12 -10.94 1.25 -10.75 4.81 0.12 5.19 0.62 5.75 0.69 6.06 0.50 6.25 0.19 9.88 -10.81 10 -10.94 10.62 -10.94 10.94 -11.06 11.25 -11.56 11.19 -11.94 11 -12.19 10.56 -12.38 7.19 -12.38 6.94 -12.31 6.62 -12.06 6.50 -11.56 6.81 -11.06 7.12 -10.94 8.38 -10.94 8.44 -10.81 5.94 -3.31 5.81 -3.19 3.19 -10.88 4.19 -11 4.56 -11.44 4.50 -12 4.25 -12.25 3.94 -12.38Z"/>
<path transform="translate(311.31 324.30)" d="M43.69 -2.44 43.38 -2.25 42.44 -1.31 42.31 -1.06 42.31 -0.62 43.62 0.69 44.06 0.69 44.38 0.50 45.25 -0.38 45.44 -0.94 45.25 -1.38 44.25 -2.31 44 -2.44ZM2.75 -5.38 2.81 -4.81 3.06 -4.56 3.44 -4.44 18.94 -4.44 19.31 -4.56 19.62 -5 19.62 -5.31 19.50 -5.56 19 -5.88 3.38 -5.88 3.06 -5.75ZM2.75 -10.50 2.75 -10.12 2.88 -9.88 3.25 -9.62 19.12 -9.62 19.56 -10 19.62 -10.19 19.50 -10.75 19.12 -11 3.19 -11 2.88 -10.75ZM75 -18.75 74.62 -18.75 74.31 -18.56 71.75 -16 70.19 -15.25 69.81 -14.75 69.88 -14.31 70.19 -14 70.75 -13.94 72.62 -14.88 73.19 -15.44 73.25 -15.38 73.25 -0.75 70.31 -0.69 69.88 -0.31 69.81 -0.12 69.88 0.31 70.31 0.69 78.44 0.69 78.69 0.56 78.94 0.25 78.88 -0.38 78.44 -0.69 75.50 -0.75 75.50 -18.31 75.25 -18.62ZM55.62 -18.75 52.88 -17.75 51.06 -15.12 50.88 -14.75 50 -10.31 50 -7.75 50.88 -3.31 52.69 -0.50 53.06 -0.19 55.62 0.69 57.88 0.69 60.56 -0.25 60.88 -0.56 62.62 -3.25 63.50 -7.56 63.50 -10.50 62.62 -14.81 60.88 -17.50 60.31 -17.94 57.88 -18.75ZM56.12 -17.38 57.44 -17.38 58.94 -16.62 59.62 -15.94 60.44 -14.25 61.25 -10.06 61.19 -7.50 60.38 -3.62 59.62 -2.12 58.94 -1.44 57.44 -0.69 56.06 -0.69 54.69 -1.38 53.88 -2.19 53.06 -3.88 52.31 -7.62 52.31 -10.44 53.19 -14.56 53.88 -15.88 54.69 -16.69ZM29.81 -18.75 27.25 -17.88 27 -17.69 25.12 -14.88 24.25 -10.56 24.25 -7.50 25.12 -3.19 26.94 -0.44 27.25 -0.19 29.81 0.69 32.06 0.69 34.50 -0.12 35 -0.44 36.69 -3 36.88 -3.50 37.69 -7.56 37.69 -10.50 36.81 -14.81 35 -17.62 34.50 -17.94 32.06 -18.75ZM30.31 -17.38 31.62 -17.38 33.12 -16.62 33.88 -15.88 34.62 -14.31 35.44 -10.19 35.44 -7.88 34.56 -3.56 33.88 -2.19 33.12 -1.44 31.62 -0.69 30.12 -0.75 28.88 -1.38 28.06 -2.19 27.31 -3.69 26.50 -7.69 26.50 -10.38 27.31 -14.38 28.06 -15.88 28.88 -16.69Z"/>
<path transform="translate(494.40 133.50)" d="M43.69 -2.44 43.38 -2.25 42.44 -1.31 42.31 -1.06 42.31 -0.62 43.62 0.69 44.06 0.69 44.38 0.50 45.25 -0.38 45.44 -0.94 45.25 -1.38 44.25 -2.31 44 -2.44ZM2.75 -5.38 2.81 -4.81 3.06 -4.56 3.44 -4.44 18.94 -4.44 19.31 -4.56 19.62 -5 19.62 -5.31 19.50 -5.56 19 -5.88 3.38 -5.88 3.06 -5.75ZM2.75 -10.50 2.75 -10.12 2.88 -9.88 3.25 -9.62 19.12 -9.62 19.56 -10 19.62 -10.19 19.50 -10.75 19.12 -11 3.19 -11 2.88 -10.75ZM57.81 -18.75 57.44 -18.75 57.19 -18.62 54.56 -16 53.06 -15.31 52.75 -15.06 52.62 -14.81 52.62 -14.44 52.88 -14.06 53.12 -13.94 53.56 -13.94 55.31 -14.81 56 -15.44 56.06 -15.38 56.06 -0.75 53.12 -0.69 52.81 -0.50 52.62 -0.19 52.62 0.19 52.75 0.44 53.12 0.69 61.25 0.69 61.50 0.56 61.75 0.19 61.75 -0.19 61.62 -0.44 61.25 -0.69 58.31 -0.75 58.31 -18.25 58.19 -18.50ZM29.81 -18.75 27.25 -17.88 27 -17.69 25.12 -14.88 24.25 -10.56 24.25 -7.50 25.12 -3.19 26.94 -0.44 27.25 -0.19 29.81 0.69 32.06 0.69 34.50 -0.12 35 -0.44 36.69 -3 36.88 -3.50 37.69 -7.56 37.69 -10.50 36.81 -14.81 35 -17.62 34.50 -17.94 32.06 -18.75ZM30.31 -17.38 31.62 -17.38 33.12 -16.62 33.88 -15.88 34.62 -14.31 35.44 -10.19 35.44 -7.88 34.56 -3.56 33.88 -2.19 33.12 -1.44 31.62 -0.69 30.12 -0.75 28.88 -1.38 28.06 -2.19 27.31 -3.69 26.50 -7.69 26.50 -10.38 27.31 -14.38 28.06 -15.88 28.88 -16.69Z"/>
<path transform="translate(578.00 139.80)" d="M2.75 -12.38 2.31 -12.19 2.06 -11.75 2.06 -8.50 1.12 -8.50 0.75 -8.38 0.44 -8 0.44 -7.50 0.69 -7.19 0.94 -7.06 2.06 -7 2.06 -2.12 2.75 -0.12 3.06 0.12 4.19 0.69 5.75 0.69 7 0.06 7.31 -0.25 7.88 -1.38 7.94 -1.69 7.69 -2.19 7.12 -2.38 6.81 -2.25 6.56 -2 6.25 -1.25 6 -1 5.38 -0.69 4.75 -0.69 4.44 -1.06 4 -2.50 4 -6.94 4.12 -7.06 5.88 -7.12 6.19 -7.44 6.25 -7.94 6.12 -8.19 5.81 -8.44 4.12 -8.44 4 -8.56 4 -11.88 3.56 -12.31Z"/>
<path transform="translate(405.00 523.20)" d="M8.81 -18.75 8.38 -18.75 8.19 -18.62 7.94 -18.75 7.56 -18.75 7.12 -18.44 5.62 -13.12 5.44 -12.75 2.50 -12.75 2.19 -12.62 1.88 -12.19 1.88 -11.88 2 -11.62 2.31 -11.38 5.06 -11.25 3.62 -6.31 2.75 -2.81 2.81 -0.50 3.88 0.56 4.12 0.69 7.06 0.69 7.31 0.56 9.19 -1.31 10.19 -3.44 10.06 -3.81 9.81 -4.06 9.12 -4.06 8.81 -3.75 8.06 -2.19 6.56 -0.69 5.50 -0.69 5 -1.12 5 -2.56 5.88 -6.06 7.38 -11.25 10.31 -11.31 10.69 -11.44 11 -11.81 10.94 -12.38 10.44 -12.75 7.81 -12.81 9.31 -17.88 9.19 -18.44Z"/>
<path transform="translate(430.00 523.20)" d="M13.12 -22.19 12.69 -22.19 12.44 -22.06 8.94 -19.44 6.25 -16.69 4.56 -14.19 2.69 -10.31 1.88 -6.25 1.88 -2.38 2.75 1.94 3.62 4.56 4.56 6.44 4.88 6.69 5.44 6.69 5.75 6.44 5.88 6.19 5.88 5.81 4.88 2.88 4.12 -0.94 4.12 -5.06 4.94 -9.19 5.81 -11.81 7.44 -15.06 9.81 -18.25 13.50 -21.12 13.62 -21.50 13.56 -21.75Z"/>
<path transform="translate(443.38 523.20)" d="M4.94 -18.75 4.56 -18.44 4.44 -18.06 4.56 -17.69 4.81 -17.44 6.81 -17.31 2.12 -0.88 2 -0.69 -0.19 -0.69 -0.56 -0.44 -0.69 -0.19 -0.69 0.19 -0.56 0.44 -0.19 0.69 13.12 0.69 13.50 0.38 15.31 -4.94 15.25 -5.50 15 -5.75 14.69 -5.88 14.25 -5.75 13.94 -5.44 11.56 -0.69 4.38 -0.75 9.06 -17.19 9.19 -17.38 11.38 -17.38 11.69 -17.56 11.88 -17.88 11.88 -18.25 11.75 -18.50 11.38 -18.75Z"/>
<path transform="translate(460.06 528.60)" d="M8.06 -12.31 6.50 -12.38 4.81 -11.81 4.44 -11.56 3.38 -10.50 2.06 -8.50 1.50 -6.81 0.94 -4.44 0.94 -2.75 1.50 -0.94 1.69 -0.62 2.50 0.12 3.62 0.69 5.25 0.69 6.75 0.19 7.19 -0.06 8.38 -1.25 9.44 -2.88 10.12 -4.75 10.69 -7 10.69 -9.06 10.12 -10.75 9.94 -11.06 9.19 -11.75ZM7.50 -10.94 8.25 -10.19 8.75 -8.69 8.75 -7.38 8.19 -5.06 7.69 -3.62 6.69 -2.12 5.69 -1.12 4.81 -0.69 4.19 -0.69 3.38 -1.50 2.94 -2.75 2.94 -4.50 3.50 -6.69 4.06 -8.19 4.94 -9.50 6.12 -10.62 6.75 -10.94Z"/>
<path transform="translate(472.06 509.30)" d="M9.81 -11.69 7.88 -12.38 6.06 -12.38 4.31 -11.81 3.38 -11.06 2.62 -9.56 2.62 -8.75 2.81 -8.38 3.69 -7.62 4.06 -7.62 4.31 -7.75 5 -8.44 5.12 -8.69 5.12 -9.06 5 -9.31 4.38 -9.94 4.50 -10.19 5 -10.56 6.12 -10.94 7.62 -10.94 8.25 -10.62 8.44 -10.44 8.75 -9.75 8.75 -9.06 8.31 -8.19 7.31 -7.19 2.38 -3.94 1.06 -2.62 -0.12 -0.25 -0.12 0.25 0.12 0.56 0.38 0.69 0.75 0.69 1.06 0.50 1.62 -0.62 1.94 -0.94 2.62 -0.94 5.31 0.69 7.44 0.69 8.69 0.06 8.94 -0.19 9.56 -1.94 9.56 -2.44 9.19 -2.88 8.56 -2.88 8.25 -2.56 7.88 -1.75 7.06 -1.25 5.69 -1.25 3.44 -2.12 2.88 -2.44 3.25 -2.81 4.75 -3.81 7.06 -4.94 8.62 -6 9.94 -7.25 10.62 -8.50 10.69 -10.12 10.06 -11.44Z"/>
<path transform="translate(519.40 529.50)" d="M2.75 -12.38 2.31 -12.19 2.06 -11.75 2.06 -8.50 1.12 -8.50 0.75 -8.38 0.44 -8 0.44 -7.50 0.69 -7.19 0.94 -7.06 2.06 -7 2.06 -2.12 2.75 -0.12 3.06 0.12 4.19 0.69 5.75 0.69 7 0.06 7.31 -0.25 7.88 -1.38 7.94 -1.69 7.69 -2.19 7.12 -2.38 6.81 -2.25 6.56 -2 6.25 -1.25 6 -1 5.38 -0.69 4.75 -0.69 4.44 -1.06 4 -2.50 4 -6.94 4.12 -7.06 5.88 -7.12 6.19 -7.44 6.25 -7.94 6.12 -8.19 5.81 -8.44 4.12 -8.44 4 -8.56 4 -11.88 3.56 -12.31Z"/></g>
<g fill="#000" fill-rule="evenodd" transform="translate(36.5 309.10) rotate(-90)"><path transform="translate(0.00 0.00)" d="M4.94 -18.88 4.69 -18.75 4.38 -18.38 4.31 -18.06 4.44 -17.62 4.94 -17.25 6.56 -17.25 6.62 -17.06 2.12 -1.31 1.88 -0.81 -0.38 -0.75 -0.81 -0.25 -0.81 0.25 -0.62 0.56 -0.25 0.81 10.62 0.81 14 -0.06 14.25 -0.19 16.19 -2.12 17.12 -4.81 17.19 -6.94 16 -9.31 16.81 -9.62 18 -10.88 18.88 -13.50 18.81 -15.88 17.94 -17.62 17.69 -17.88 14.88 -18.88ZM4.56 -0.88 6.62 -8.25 6.81 -8.62 13.44 -8.62 13.94 -8.12 14.62 -6.75 14.62 -5.12 13.94 -3.06 12.44 -1.56 10.12 -0.81ZM7.25 -10.38 9.12 -17 9.31 -17.25 14.38 -17.25 15.75 -16.56 16.38 -15.31 16.38 -13.88 15.69 -11.75 15 -11 13.62 -10.31Z"/>
<path transform="translate(19.62 6.30)" d="M30.62 -8.50 29.62 -8 28.75 -7.19 28.56 -6.75 28.56 -5.44 28.69 -5.12 29.56 -4.25 30.81 -3.62 33.12 -2.75 34.44 -2.12 34.69 -1.88 34.69 -1.50 34.38 -1.19 33.62 -0.81 31.81 -0.81 31.06 -1.19 30.56 -1.69 30.12 -2.62 29.81 -2.94 29.31 -3.06 28.81 -2.81 28.56 -2.31 28.62 0.31 28.94 0.69 29.19 0.81 29.62 0.81 29.88 0.69 30.25 0.25 31.38 0.81 34.25 0.75 35.44 0.12 36.19 -0.62 36.31 -0.88 36.31 -3 36.19 -3.25 35.25 -4.12 34.12 -4.69 31.50 -5.69 30.50 -6.19 30.31 -6.38 30.50 -6.56 31.25 -6.94 33.12 -6.94 33.88 -6.56 34.31 -6.12 34.69 -5.25 35 -4.88 35.25 -4.75 35.75 -4.75 36 -4.88 36.31 -5.31 36.31 -8 36.19 -8.25 35.75 -8.56 35.25 -8.56 35 -8.44 34.62 -8 33.31 -8.62 31.06 -8.62ZM9.75 -8.06 9.75 -7.50 9.88 -7.25 10.19 -7 11.38 -6.88 11.38 -0.88 10.31 -0.81 9.81 -0.44 9.69 0 9.81 0.44 10.31 0.81 14.62 0.81 15.12 0.44 15.25 -0.12 15.12 -0.44 14.88 -0.69 14.62 -0.81 13.56 -0.88 13.56 -5.75 14.31 -6.50 15.62 -6.94 16.50 -6.94 17 -6.69 17.50 -5.88 17.50 -0.88 16.44 -0.81 15.94 -0.44 15.81 0.12 15.94 0.44 16.19 0.69 16.44 0.81 20.75 0.81 21.25 0.44 21.38 0 21.25 -0.44 21 -0.69 20.75 -0.81 19.69 -0.88 19.69 -5.75 20.44 -6.50 21.69 -6.94 22.56 -6.94 23.19 -6.62 23.56 -6 23.56 -0.88 22.50 -0.81 22.12 -0.56 21.94 -0.25 21.94 0.25 22.06 0.50 22.50 0.81 26.88 0.81 27.44 0.25 27.44 -0.25 27.31 -0.50 27 -0.75 25.81 -0.88 25.81 -6.12 25.19 -7.56 24.56 -8.06 22.81 -8.62 21.31 -8.56 19.81 -8.06 19.12 -7.56 18.81 -7.88 18.44 -8.06 16.69 -8.62 15.50 -8.62 13.69 -8 13.19 -8.50 12.81 -8.62 10.56 -8.62 10.12 -8.50ZM0.88 -8.56 0.62 -8.44 0.31 -8 0.38 -7.38 0.94 -6.94 1.94 -6.88 1.94 -0.88 0.88 -0.81 0.62 -0.69 0.31 -0.25 0.31 0.25 0.44 0.50 0.88 0.81 5.25 0.81 5.69 0.44 5.81 0.19 5.81 -0.19 5.69 -0.44 5.25 -0.81 4.25 -0.81 4.12 -0.94 4.12 -4.12 4.56 -5.56 5.50 -6.56 6.38 -6.94 6.38 -6.56 6.56 -6.12 7.19 -5.50 7.75 -5.25 8.06 -5.31 8.94 -6.06 9.19 -6.69 9.12 -7.44 8.94 -7.81 8.25 -8.44 7.75 -8.62 5.81 -8.56 4.56 -7.94 4.25 -7.62 4.06 -8.19 3.62 -8.56Z"/>
<path transform="translate(75.75 0.00)" d="M4.94 -18.88 4.69 -18.75 4.38 -18.38 4.31 -18.06 4.44 -17.62 4.94 -17.25 6.56 -17.25 6.62 -17.06 2.12 -1.31 1.88 -0.81 -0.38 -0.75 -0.81 -0.25 -0.81 0.25 -0.62 0.56 -0.25 0.81 10.62 0.81 14 -0.06 14.25 -0.19 16.19 -2.12 17.12 -4.81 17.19 -6.94 16 -9.31 16.81 -9.62 18 -10.88 18.88 -13.50 18.81 -15.88 17.94 -17.62 17.69 -17.88 14.88 -18.88ZM4.56 -0.88 6.62 -8.25 6.81 -8.62 13.44 -8.62 13.94 -8.12 14.62 -6.75 14.62 -5.12 13.94 -3.06 12.44 -1.56 10.12 -0.81ZM7.25 -10.38 9.12 -17 9.31 -17.25 14.38 -17.25 15.75 -16.56 16.38 -15.31 16.38 -13.88 15.69 -11.75 15 -11 13.62 -10.31Z"/>
<path transform="translate(95.38 6.30)" d="M13.25 -7.81 12.06 -6.56 11.38 -4.56 11.38 -3.19 12.06 -1.19 13.38 0.12 15.25 0.81 16.88 0.81 17.94 0.25 18.06 0.31 18.06 2.94 17.94 3.06 17 3.06 16.50 3.44 16.38 3.69 16.44 4.25 16.81 4.62 18.81 4.75 21.06 4.75 21.56 4.56 21.88 4.12 21.88 3.62 21.75 3.38 21.25 3.06 20.25 3 20.25 -7.88 20.12 -8.19 19.69 -8.56 18.62 -8.56 18.38 -8.44 18 -8 16.88 -8.56 15.50 -8.62 13.56 -8ZM15.69 -6.94 16.50 -6.94 17.12 -6.62 18.06 -5.69 18.06 -2.06 17.19 -1.19 16.44 -0.81 15.75 -0.81 14.88 -1.25 14.06 -2.06 13.56 -3.50 13.56 -4.25 14 -5.62 14.94 -6.56ZM4.94 -8.62 2.94 -7.94 1.56 -6.62 0.88 -4.75 0.81 -3.31 1.50 -1.25 2.94 0.19 4.69 0.81 6.38 0.81 8.25 0.12 9.56 -1.19 9.69 -1.44 9.69 -1.88 9.56 -2.12 9.19 -2.44 8.75 -2.50 8.25 -2.25 7.38 -1.31 5.94 -0.81 5.19 -0.81 4.44 -1.19 3.50 -2.12 3.06 -3.56 9.12 -3.62 9.69 -4.19 9.69 -5.75 8.94 -7.25 8.19 -7.94 6.69 -8.62ZM3.38 -5.38 3.56 -5.75 4.25 -6.44 5.19 -6.94 6.50 -6.94 7.12 -6.62 7.50 -5.94 7.44 -5.25 3.44 -5.25Z"/></g><path d="M14.4 306.7V291M43.3 255.1L14.9 235.7" stroke="#000" stroke-width="1.6" fill="none"/>
<g id="greek" fill="none" stroke="#000" stroke-width="1.4" stroke-linecap="round" stroke-linejoin="round">
<path stroke-width="2.1" d="M470.3 121.3L466.9 133.3"/>
<path stroke-width="1.4" d="M468.9 127.7L475.6 122.8C477 121.8 478.4 121.3 479.5 121.9"/>
<circle cx="479.2" cy="122.3" r="0.9" fill="#000" stroke="none"/>
<path stroke-width="1.7" d="M470.6 126.9C473.4 127.4 474.4 129.4 475.2 131.2C476.2 133.3 478 133.6 479.7 132.4"/>
<path stroke-width="1.6" d="M492.5 132.9C491.5 136.2 489.6 140.4 486.6 140.4C484.4 140.4 483.5 138.7 483.5 136.8C483.5 134.5 484.8 133 486.8 133C489.5 133 490.7 136 491.3 138.3C491.7 139.9 492.3 140.6 493.1 140.3"/>
<g transform="translate(57.00 -389.30)"><path stroke-width="1.3" d="M501.9 514.4C502.5 512.2 503.6 510.3 505.2 510.1"/><path stroke-width="2.1" d="M505.6 510.3C506.6 510.8 506.5 512.2 506.4 513.2L505.5 522.6"/><path stroke-width="1.4" d="M506.5 515.6C508.4 512.5 511 510.1 514 510C516.4 509.9 517.7 511 517.7 512.6"/><path stroke-width="2.1" d="M517.6 512.2L513.7 529.2"/></g>
<g transform="translate(0.00 0.00)"><path stroke-width="1.3" d="M501.9 514.4C502.5 512.2 503.6 510.3 505.2 510.1"/><path stroke-width="2.1" d="M505.6 510.3C506.6 510.8 506.5 512.2 506.4 513.2L505.5 522.6"/><path stroke-width="1.4" d="M506.5 515.6C508.4 512.5 511 510.1 514 510C516.4 509.9 517.7 511 517.7 512.6"/><path stroke-width="2.1" d="M517.6 512.2L513.7 529.2"/></g>
<path stroke-width="1.5" d="M480.9 529.1L503.1 501.9"/>
<path fill="#000" stroke-width="1.1" d="M531 501.6C536 505.5 538.2 511 536.9 517.5C536 522.5 533.5 526.5 530.1 529.5C533 526 535 522 535.7 517.5C536.4 511.5 535 506 531 501.6Z"/>
</g>
</svg></body></html>
